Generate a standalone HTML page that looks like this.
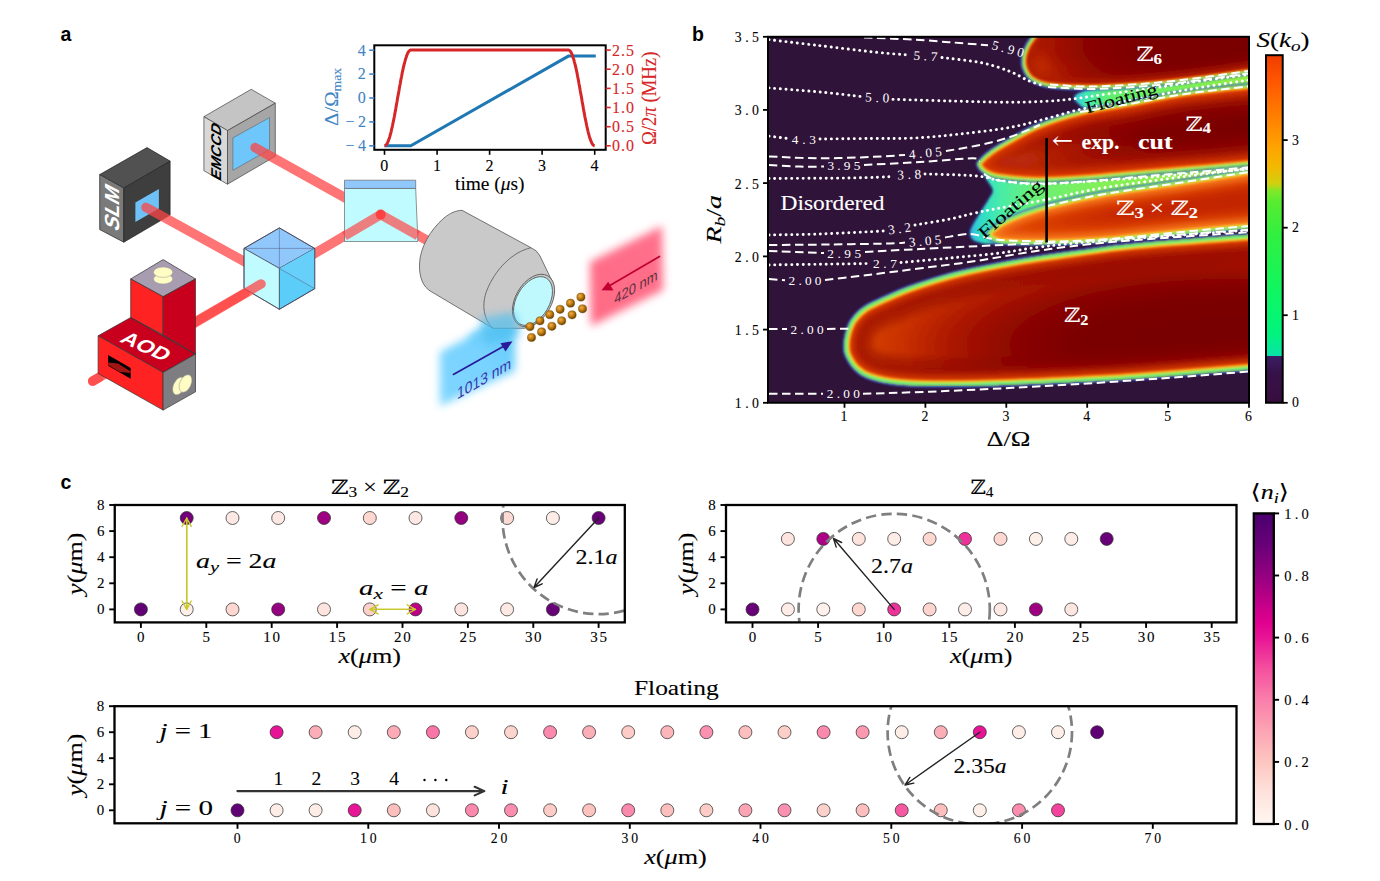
<!DOCTYPE html><html><head><meta charset="utf-8"><style>html,body{margin:0;padding:0;background:#fff;}svg{display:block;}</style></head><body>
<svg width="1380" height="881" viewBox="0 0 1380 881">
<rect width="1380" height="881" fill="#fff"/>
<defs>
<radialGradient id="gAtom" cx="0.38" cy="0.35" r="0.65"><stop offset="0" stop-color="#f0b040"/><stop offset="0.55" stop-color="#c07810"/><stop offset="1" stop-color="#6a4200"/></radialGradient>
<filter id="fb6" x="-30%" y="-30%" width="160%" height="160%"><feGaussianBlur stdDeviation="4"/></filter>
<filter id="fb3" x="-30%" y="-30%" width="160%" height="160%"><feGaussianBlur stdDeviation="2.5"/></filter>
<linearGradient id="gBlue" x1="0" y1="1" x2="1" y2="0"><stop offset="0" stop-color="#78d4ff"/><stop offset="0.6" stop-color="#70d0ff"/><stop offset="1" stop-color="#50c4f4"/></linearGradient>
<linearGradient id="gRed" x1="0" y1="1" x2="1" y2="0"><stop offset="0" stop-color="#ff5070"/><stop offset="1" stop-color="#ff5878"/></linearGradient>
</defs>
<polygon points="440.0,352.0 515.0,313.0 515.0,371.0 440.0,406.0" fill="url(#gBlue)" stroke="none" stroke-width="0" stroke-linejoin="round" filter="url(#fb6)" opacity="0.95"/>
<polygon points="470.0,335.0 505.0,316.0 495.0,328.0 470.0,345.0" fill="#60c8f8" stroke="none" stroke-width="0" stroke-linejoin="round" filter="url(#fb6)" opacity="0.8"/>
<polygon points="590.0,262.0 662.0,226.0 663.0,290.0 591.0,326.0" fill="url(#gRed)" stroke="none" stroke-width="0" stroke-linejoin="round" filter="url(#fb6)" opacity="0.85"/>
<line x1="92.7" y1="381.1" x2="245.0" y2="293.0" stroke="#ff4444" stroke-opacity="0.74" stroke-width="9.5" stroke-linecap="round" fill="none"/>
<line x1="380.7" y1="214.6" x2="440.0" y2="247.5" stroke="#ff4444" stroke-opacity="0.74" stroke-width="9.5" stroke-linecap="round" fill="none"/>
<polygon points="99.7,174.6 147.0,147.6 170.1,161.1 123.8,188.1" fill="#515151" stroke="#222" stroke-width="0.7" stroke-linejoin="round" />
<polygon points="99.7,174.6 123.8,188.1 123.8,242.2 99.7,229.6" fill="#7a7a7a" stroke="#222" stroke-width="0.7" stroke-linejoin="round" />
<polygon points="123.8,188.1 170.1,161.1 170.1,215.1 123.8,242.2" fill="#3e3e3e" stroke="#222" stroke-width="0.7" stroke-linejoin="round" />
<polygon points="135.4,202.6 158.9,189.1 158.9,208.4 135.4,221.9" fill="#6ec2f8" stroke="none" stroke-width="0" stroke-linejoin="round" />
<text transform="matrix(0,-1,0.886,0.464,111.9,207)" font-family="'Liberation Sans','DejaVu Sans',sans-serif" font-weight="bold" font-size="23" fill="#fff" x="-21.7" y="8" textLength="43.4" lengthAdjust="spacingAndGlyphs">SLM</text>
<polygon points="203.9,116.7 251.2,89.3 275.3,103.2 227.5,130.6" fill="#c4c4c4" stroke="#444" stroke-width="0.7" stroke-linejoin="round" />
<polygon points="203.9,116.7 227.5,130.6 227.5,184.2 203.9,170.7" fill="#d8d8d8" stroke="#444" stroke-width="0.7" stroke-linejoin="round" />
<polygon points="227.5,130.6 275.3,103.2 275.3,156.3 227.5,184.2" fill="#a6a6a6" stroke="#444" stroke-width="0.7" stroke-linejoin="round" />
<polygon points="232.9,137.9 269.5,117.6 269.5,149.5 232.9,170.3" fill="#6ec6fa" stroke="#555" stroke-width="0.5" stroke-linejoin="round" />
<text transform="matrix(0,-1,0.886,0.464,215.3,151)" font-family="'Liberation Sans','DejaVu Sans',sans-serif" font-weight="bold" font-size="16" fill="#000" x="-28" y="6" textLength="56" lengthAdjust="spacingAndGlyphs">EMCCD</text>
<line x1="255.1" y1="147.6" x2="350.0" y2="200.5" stroke="#ff4444" stroke-opacity="0.74" stroke-width="9.5" stroke-linecap="round" fill="none"/>
<line x1="146.0" y1="207.4" x2="248.0" y2="263.5" stroke="#ff4444" stroke-opacity="0.74" stroke-width="9.5" stroke-linecap="round" fill="none"/>
<line x1="290.0" y1="268.0" x2="380.7" y2="214.6" stroke="#ff4444" stroke-opacity="0.74" stroke-width="9.5" stroke-linecap="round" fill="none"/>
<polygon points="279.4,227.9 244.0,248.4 279.4,268.4 314.7,248.4" fill="#90c8fc" stroke="#445" stroke-width="0.7" stroke-linejoin="round" />
<polygon points="244.0,248.4 279.4,268.4 279.4,309.3 244.0,288.4" fill="#c0fcff" stroke="#445" stroke-width="0.7" stroke-linejoin="round" />
<polygon points="279.4,268.4 314.7,248.4 314.7,288.7 279.4,309.3" fill="#5cccf8" stroke="#445" stroke-width="0.7" stroke-linejoin="round" />
<polygon points="279.4,268.4 314.7,248.4 314.7,288.7" fill="#66d0fa" stroke="none" stroke-width="0" stroke-linejoin="round" />
<path d="M244,248.4 L314.7,248.4 M279.4,227.9 L279.4,268.4 M279.4,268.4 L314.7,288.7" stroke="#557" stroke-width="0.6" fill="none" opacity="0.8"/>
<polygon points="279.4,227.9 244.0,248.4 244.0,288.4 279.4,309.3 314.7,288.7 314.7,248.4" fill="none" stroke="#445" stroke-width="0.8" stroke-linejoin="round" />
<polygon points="344.5,188.4 415.7,188.4 417.9,241.5 344.5,241.5" fill="#c0fcff" stroke="#666" stroke-width="0.7" stroke-linejoin="round" />
<polygon points="344.5,180.2 415.7,180.2 415.7,188.4 344.5,188.4" fill="#90c8fc" stroke="#666" stroke-width="0.7" stroke-linejoin="round" />
<path d="M344.5,236 L380.7,214.6 L418,235.5" stroke="#ff4444" stroke-opacity="0.68" stroke-width="9.5" fill="none" stroke-linejoin="round"/>
<circle cx="380.7" cy="214.6" r="5" fill="#ff3c3c" opacity="0.9"/>
<path d="M462,210.3 L531,247.7 Q537,250 540,256 L552,281 L553,289 C552,302 545,317 533,326 L524,328.3 L493,328.3 L431,291.5 C423,287 419,277 419.5,264 C420,248 430,230 444,218 C450,213 456,210.5 462,210.3 Z" fill="#c9c9c9" stroke="#555" stroke-width="0.8"/>
<path d="M531,247.7 C512,252 495,270 487,290 C481,305 484,320 493,328.3" fill="none" stroke="#555" stroke-width="0.8"/>
<ellipse cx="533.5" cy="300.5" rx="28.5" ry="18" transform="rotate(-60 533.5 300.5)" fill="#c9c9c9" stroke="#555" stroke-width="0.8"/>
<ellipse cx="533" cy="301" rx="26.5" ry="16.5" transform="rotate(-60 533 301)" fill="#bff9fd" stroke="#555" stroke-width="0.8"/>
<polygon points="480.0,318.0 515.0,312.0 520.0,335.0 485.0,345.0" fill="#50c0f0" stroke="none" stroke-width="0" stroke-linejoin="round" filter="url(#fb6)" opacity="0.7"/>
<circle cx="530" cy="326.6" r="4.1" fill="url(#gAtom)" stroke="#5a3a00" stroke-width="0.4"/>
<circle cx="540" cy="320.8" r="4.1" fill="url(#gAtom)" stroke="#5a3a00" stroke-width="0.4"/>
<circle cx="549.8" cy="314.7" r="4.1" fill="url(#gAtom)" stroke="#5a3a00" stroke-width="0.4"/>
<circle cx="560.1" cy="309.3" r="4.1" fill="url(#gAtom)" stroke="#5a3a00" stroke-width="0.4"/>
<circle cx="570.5" cy="303.2" r="4.1" fill="url(#gAtom)" stroke="#5a3a00" stroke-width="0.4"/>
<circle cx="580.9" cy="297.1" r="4.1" fill="url(#gAtom)" stroke="#5a3a00" stroke-width="0.4"/>
<circle cx="531.5" cy="337.5" r="4.1" fill="url(#gAtom)" stroke="#5a3a00" stroke-width="0.4"/>
<circle cx="541.6" cy="331.9" r="4.1" fill="url(#gAtom)" stroke="#5a3a00" stroke-width="0.4"/>
<circle cx="551.9" cy="326.3" r="4.1" fill="url(#gAtom)" stroke="#5a3a00" stroke-width="0.4"/>
<circle cx="561.7" cy="320.8" r="4.1" fill="url(#gAtom)" stroke="#5a3a00" stroke-width="0.4"/>
<circle cx="572.1" cy="314.8" r="4.1" fill="url(#gAtom)" stroke="#5a3a00" stroke-width="0.4"/>
<circle cx="582.5" cy="308.8" r="4.1" fill="url(#gAtom)" stroke="#5a3a00" stroke-width="0.4"/>
<path d="M453.4,374.4 L505,345.4" fill="none" stroke="#2a1a9a" stroke-width="1.7" stroke-linecap="round"/>
<path d="M512.5,341.2 L500.5,343.2 L505.5,351.5 Z" fill="#2a1a9a"/>
<path d="M659.5,256.5 L609,286" fill="none" stroke="#c00030" stroke-width="1.7" stroke-linecap="round"/>
<path d="M601.5,290.3 L613.5,290.5 L608.2,281.8 Z" fill="#c00030"/>
<text transform="matrix(0.866,-0.5,0,1,484,378)" font-family="'Liberation Sans','DejaVu Sans',sans-serif" font-size="16" fill="#3838b0" text-anchor="middle" dy="6">1013 nm</text>
<text transform="matrix(0.866,-0.5,0,1,636,287)" font-family="'Liberation Sans','DejaVu Sans',sans-serif" font-size="15" fill="#5a3040" text-anchor="middle" dy="5">420 nm</text>
<line x1="92.7" y1="381.1" x2="99.0" y2="377.5" stroke="#ff4444" stroke-opacity="0.74" stroke-width="9.5" stroke-linecap="round" fill="none"/>
<line x1="180.0" y1="331.6" x2="261.0" y2="284.0" stroke="#ff4444" stroke-opacity="0.74" stroke-width="9.5" stroke-linecap="round" fill="none"/>
<polygon points="98.1,335.8 130.7,317.5 195.5,354.1 163.1,372.5" fill="#c8001e" stroke="#333" stroke-width="0.7" stroke-linejoin="round" />
<polygon points="98.1,335.8 163.1,372.5 163.1,410.1 98.1,373.4" fill="#ff2222" stroke="#333" stroke-width="0.7" stroke-linejoin="round" />
<polygon points="163.1,372.5 195.5,354.1 195.5,391.8 163.1,410.1" fill="#7e7e82" stroke="#333" stroke-width="0.7" stroke-linejoin="round" />
<polygon points="130.7,278.9 163.1,259.6 195.5,278.9 163.1,296.7" fill="#a89cb0" stroke="#333" stroke-width="0.7" stroke-linejoin="round" />
<polygon points="130.7,278.9 163.1,296.7 163.1,334.9 130.7,317.5" fill="#ff2222" stroke="#333" stroke-width="0.7" stroke-linejoin="round" />
<polygon points="163.1,296.7 195.5,278.9 195.5,354.1 163.1,334.9" fill="#c8001e" stroke="#333" stroke-width="0.7" stroke-linejoin="round" />
<line x1="130.7" y1="317.5" x2="195.5" y2="354.1" stroke="#333" stroke-width="0.7"/>
<polygon points="108.1,355.1 130.7,368.0 130.7,378.8 108.1,365.7" fill="#000" stroke="none" stroke-width="0" stroke-linejoin="round" />
<polygon points="108.1,362.5 118.0,363.5 130.7,371.5 130.7,373.0 120.0,372.0 108.1,365.0" fill="#a01414" stroke="none" stroke-width="0" stroke-linejoin="round" />
<ellipse cx="163.1" cy="279" rx="9.6" ry="5" fill="#fffcc4" stroke="#999" stroke-width="0.5"/>
<ellipse cx="163.1" cy="272.2" rx="9.6" ry="5.2" fill="#fffcc4" stroke="#999" stroke-width="0.5"/>
<ellipse cx="179" cy="386" rx="5.6" ry="9.3" transform="rotate(25 179 386)" fill="#fffcc4" stroke="#999" stroke-width="0.5"/>
<ellipse cx="185.5" cy="383.5" rx="5.6" ry="9.3" transform="rotate(25 185.5 383.5)" fill="#fffcc4" stroke="#999" stroke-width="0.5"/>
<text transform="translate(146.5,346) rotate(24) skewX(-18)" font-family="'Liberation Sans','DejaVu Sans',sans-serif" font-weight="bold" font-size="19" fill="#fff" x="-25" y="7" textLength="50" lengthAdjust="spacingAndGlyphs">AOD</text>
<path d="M384.5,145.8 L410.8,145.8 L568.4,56.1 L595.8,56.1" fill="none" stroke="#1f77b4" stroke-width="3"/>
<path d="M384.5,145.8 L385.2,145.7 L385.8,145.2 L386.5,144.5 L387.1,143.5 L387.8,142.2 L388.4,140.6 L389.1,138.7 L389.8,136.7 L390.4,134.3 L391.1,131.8 L391.7,129.0 L392.4,126.1 L393.0,123.0 L393.7,119.7 L394.4,116.3 L395.0,112.7 L395.7,109.1 L396.3,105.4 L397.0,101.7 L397.6,98.0 L398.3,94.2 L399.0,90.5 L399.6,86.8 L400.3,83.2 L400.9,79.6 L401.6,76.2 L402.2,72.9 L402.9,69.8 L403.5,66.9 L404.2,64.1 L404.9,61.6 L405.5,59.2 L406.2,57.2 L406.8,55.3 L407.5,53.7 L408.1,52.4 L408.8,51.4 L409.5,50.7 L410.1,50.2 L410.8,50.1 L568.4,50.1 L568.4,50.1 L569.1,50.2 L569.7,50.7 L570.4,51.4 L571.1,52.4 L571.7,53.7 L572.4,55.3 L573.0,57.2 L573.7,59.2 L574.3,61.6 L575.0,64.1 L575.7,66.9 L576.3,69.8 L577.0,72.9 L577.6,76.2 L578.3,79.6 L578.9,83.2 L579.6,86.8 L580.2,90.5 L580.9,94.2 L581.6,98.0 L582.2,101.7 L582.9,105.4 L583.5,109.1 L584.2,112.7 L584.8,116.3 L585.5,119.7 L586.2,123.0 L586.8,126.1 L587.5,129.0 L588.1,131.8 L588.8,134.3 L589.4,136.7 L590.1,138.7 L590.8,140.6 L591.4,142.2 L592.1,143.5 L592.7,144.5 L593.4,145.2 L594.0,145.7 L594.7,145.8" fill="none" stroke="#d62728" stroke-width="3" stroke-linejoin="round"/>
<rect x="374.3" y="45.3" width="231.40000000000003" height="104.50000000000001" fill="none" stroke="#000" stroke-width="2"/>
<g font-family="'Liberation Serif','DejaVu Serif',serif">
<line x1="384.5" y1="149.8" x2="384.5" y2="154.8" stroke="#000" stroke-width="1.6"/>
<text x="380.3" y="170.7" font-size="16" fill="#000" stroke="#000" stroke-width="0.1" textLength="8.4" lengthAdjust="spacing" >0</text>
<line x1="437.1" y1="149.8" x2="437.1" y2="154.8" stroke="#000" stroke-width="1.6"/>
<text x="432.9" y="170.7" font-size="16" fill="#000" stroke="#000" stroke-width="0.1" textLength="8.4" lengthAdjust="spacing" >1</text>
<line x1="489.6" y1="149.8" x2="489.6" y2="154.8" stroke="#000" stroke-width="1.6"/>
<text x="485.4" y="170.7" font-size="16" fill="#000" stroke="#000" stroke-width="0.1" textLength="8.4" lengthAdjust="spacing" >2</text>
<line x1="542.1" y1="149.8" x2="542.1" y2="154.8" stroke="#000" stroke-width="1.6"/>
<text x="537.9" y="170.7" font-size="16" fill="#000" stroke="#000" stroke-width="0.1" textLength="8.4" lengthAdjust="spacing" >3</text>
<line x1="594.7" y1="149.8" x2="594.7" y2="154.8" stroke="#000" stroke-width="1.6"/>
<text x="590.5" y="170.7" font-size="16" fill="#000" stroke="#000" stroke-width="0.1" textLength="8.4" lengthAdjust="spacing" >4</text>
<line x1="369.3" y1="145.8" x2="374.3" y2="145.8" stroke="#3f84c4" stroke-width="1.6"/>
<text x="345.5" y="151.1" font-size="16" fill="#3f84c4" stroke="#3f84c4" stroke-width="0.1" textLength="20.5" lengthAdjust="spacing" >−4</text>
<line x1="369.3" y1="121.9" x2="374.3" y2="121.9" stroke="#3f84c4" stroke-width="1.6"/>
<text x="345.5" y="127.2" font-size="16" fill="#3f84c4" stroke="#3f84c4" stroke-width="0.1" textLength="20.5" lengthAdjust="spacing" >−2</text>
<line x1="369.3" y1="98.0" x2="374.3" y2="98.0" stroke="#3f84c4" stroke-width="1.6"/>
<text x="357.8" y="103.3" font-size="16" fill="#3f84c4" stroke="#3f84c4" stroke-width="0.1" textLength="8.2" lengthAdjust="spacing" >0</text>
<line x1="369.3" y1="74.1" x2="374.3" y2="74.1" stroke="#3f84c4" stroke-width="1.6"/>
<text x="357.8" y="79.4" font-size="16" fill="#3f84c4" stroke="#3f84c4" stroke-width="0.1" textLength="8.2" lengthAdjust="spacing" >2</text>
<line x1="369.3" y1="50.2" x2="374.3" y2="50.2" stroke="#3f84c4" stroke-width="1.6"/>
<text x="357.8" y="55.5" font-size="16" fill="#3f84c4" stroke="#3f84c4" stroke-width="0.1" textLength="8.2" lengthAdjust="spacing" >4</text>
<line x1="605.7" y1="145.8" x2="610.7" y2="145.8" stroke="#d62728" stroke-width="1.6"/>
<text x="612.0" y="151.2" font-size="16" fill="#d62728" stroke="#d62728" stroke-width="0.1" textLength="22.0" lengthAdjust="spacing" >0.0</text>
<line x1="605.7" y1="126.7" x2="610.7" y2="126.7" stroke="#d62728" stroke-width="1.6"/>
<text x="612.0" y="132.1" font-size="16" fill="#d62728" stroke="#d62728" stroke-width="0.1" textLength="22.0" lengthAdjust="spacing" >0.5</text>
<line x1="605.7" y1="107.5" x2="610.7" y2="107.5" stroke="#d62728" stroke-width="1.6"/>
<text x="612.0" y="112.9" font-size="16" fill="#d62728" stroke="#d62728" stroke-width="0.1" textLength="22.0" lengthAdjust="spacing" >1.0</text>
<line x1="605.7" y1="88.4" x2="610.7" y2="88.4" stroke="#d62728" stroke-width="1.6"/>
<text x="612.0" y="93.8" font-size="16" fill="#d62728" stroke="#d62728" stroke-width="0.1" textLength="22.0" lengthAdjust="spacing" >1.5</text>
<line x1="605.7" y1="69.2" x2="610.7" y2="69.2" stroke="#d62728" stroke-width="1.6"/>
<text x="612.0" y="74.6" font-size="16" fill="#d62728" stroke="#d62728" stroke-width="0.1" textLength="22.0" lengthAdjust="spacing" >2.0</text>
<line x1="605.7" y1="50.1" x2="610.7" y2="50.1" stroke="#d62728" stroke-width="1.6"/>
<text x="612.0" y="55.5" font-size="16" fill="#d62728" stroke="#d62728" stroke-width="0.1" textLength="22.0" lengthAdjust="spacing" >2.5</text>
<text x="455.0" y="189.9" font-size="18" fill="#000" stroke="#000" stroke-width="0.1" textLength="69.5" lengthAdjust="spacingAndGlyphs" >time (<tspan font-style="italic">μ</tspan>s)</text>
<text transform="translate(337.7,96.9) rotate(-90)" x="-29.0" y="0.0" font-size="19" fill="#3f84c4" stroke="#3f84c4" stroke-width="0.1" textLength="58.0" lengthAdjust="spacingAndGlyphs" >Δ/Ω<tspan font-size="12.5" dy="3">max</tspan></text>
<text transform="translate(655.8,98.3) rotate(-90)" x="-46.8" y="0.0" font-size="20" fill="#d62728" stroke="#d62728" stroke-width="0.1" textLength="93.5" lengthAdjust="spacingAndGlyphs" >Ω/2<tspan font-style="italic">π</tspan> (MHz)</text>
</g>
<defs>
<clipPath id="clipB"><rect x="768.0" y="36.8" width="481.0" height="365.95"/></clipPath>
<radialGradient id="gZ2" gradientUnits="userSpaceOnUse" cx="1230" cy="345" r="390" gradientTransform="translate(1230,345) scale(1,0.3) translate(-1230,-345)"><stop offset="0" stop-color="#780000"/><stop offset="0.38" stop-color="#7a0000"/><stop offset="0.55" stop-color="#8a0500"/><stop offset="0.7" stop-color="#a81400"/><stop offset="0.84" stop-color="#c83000"/><stop offset="1" stop-color="#e04c10"/></radialGradient>
<radialGradient id="gZ4" gradientUnits="userSpaceOnUse" cx="1280" cy="125" r="305" gradientTransform="translate(1280,125) scale(1,0.25) translate(-1280,-125)"><stop offset="0" stop-color="#780000"/><stop offset="0.45" stop-color="#7c0000"/><stop offset="0.66" stop-color="#980a00"/><stop offset="0.8" stop-color="#bc2200"/><stop offset="0.92" stop-color="#dc4410"/><stop offset="1" stop-color="#f06820"/></radialGradient>
<radialGradient id="gZ6" gradientUnits="userSpaceOnUse" cx="1290" cy="45" r="275" gradientTransform="translate(1290,45) scale(1,0.3) translate(-1290,-45)"><stop offset="0" stop-color="#780000"/><stop offset="0.55" stop-color="#7c0000"/><stop offset="0.75" stop-color="#8c0600"/><stop offset="0.88" stop-color="#a81400"/><stop offset="0.96" stop-color="#d03800"/><stop offset="1" stop-color="#e85818"/></radialGradient>
<radialGradient id="gZ32" gradientUnits="userSpaceOnUse" cx="1300" cy="203" r="330" gradientTransform="translate(1300,203) scale(1,0.2) translate(-1300,-203)"><stop offset="0" stop-color="#b82000"/><stop offset="0.55" stop-color="#c42a00"/><stop offset="0.78" stop-color="#d84000"/><stop offset="0.9" stop-color="#f06818"/><stop offset="1" stop-color="#ffa838"/></radialGradient>
<filter id="fblur" x="-5%" y="-5%" width="110%" height="110%"><feGaussianBlur stdDeviation="1.15"/></filter>
<filter id="fblur4" x="-5%" y="-5%" width="110%" height="110%"><feGaussianBlur stdDeviation="3.5"/></filter>
<filter id="fblur2" x="-10%" y="-10%" width="120%" height="120%"><feGaussianBlur stdDeviation="2.2"/></filter>
</defs>
<g clip-path="url(#clipB)">
<rect x="768.0" y="36.8" width="481.0" height="365.95" fill="#2f1339"/>
<linearGradient id="gBand1" gradientUnits="userSpaceOnUse" x1="1074" y1="0" x2="1250" y2="0"><stop offset="0" stop-color="#38c8e0"/><stop offset="0.07" stop-color="#40e8b0"/><stop offset="0.2" stop-color="#60f070"/><stop offset="1" stop-color="#90f040"/></linearGradient>
<linearGradient id="gBand2" gradientUnits="userSpaceOnUse" x1="970" y1="0" x2="1250" y2="0"><stop offset="0" stop-color="#30b8e0"/><stop offset="0.04" stop-color="#30dcc8"/><stop offset="0.11" stop-color="#48eca8"/><stop offset="0.22" stop-color="#68f078"/><stop offset="0.45" stop-color="#80f058"/><stop offset="1" stop-color="#a8f040"/></linearGradient>
<path d="M1290.0,64.0 C1283.7,65.0 1267.0,68.3 1252.0,70.0 C1237.0,71.7 1217.0,72.0 1200.0,74.0 C1183.0,76.0 1165.0,79.8 1150.0,82.0 C1135.0,84.2 1120.3,85.7 1110.0,87.0 C1099.7,88.3 1093.8,88.5 1088.0,90.0 C1082.2,91.5 1076.7,93.8 1075.0,96.0 C1073.3,98.2 1075.5,101.0 1078.0,103.0 C1080.5,105.0 1081.3,108.3 1090.0,108.0 C1098.7,107.7 1113.3,103.7 1130.0,101.0 C1146.7,98.3 1169.7,94.5 1190.0,92.0 C1210.3,89.5 1235.3,87.5 1252.0,86.0 C1268.7,84.5 1283.7,83.5 1290.0,83.0 Z" fill="#3848d0" opacity="0.8" filter="url(#fblur2)"/>
<path d="M1290.0,64.0 C1283.7,65.0 1267.0,68.3 1252.0,70.0 C1237.0,71.7 1217.0,72.0 1200.0,74.0 C1183.0,76.0 1165.0,79.8 1150.0,82.0 C1135.0,84.2 1120.3,85.7 1110.0,87.0 C1099.7,88.3 1093.8,88.5 1088.0,90.0 C1082.2,91.5 1076.7,93.8 1075.0,96.0 C1073.3,98.2 1075.5,101.0 1078.0,103.0 C1080.5,105.0 1081.3,108.3 1090.0,108.0 C1098.7,107.7 1113.3,103.7 1130.0,101.0 C1146.7,98.3 1169.7,94.5 1190.0,92.0 C1210.3,89.5 1235.3,87.5 1252.0,86.0 C1268.7,84.5 1283.7,83.5 1290.0,83.0 Z" fill="url(#gBand1)" filter="url(#fblur)"/>
<path d="M1290.0,156.0 C1283.7,156.7 1268.7,158.2 1252.0,160.0 C1235.3,161.8 1212.0,164.8 1190.0,167.0 C1168.0,169.2 1145.0,171.2 1120.0,173.0 C1095.0,174.8 1060.0,177.3 1040.0,178.0 C1020.0,178.7 1009.3,178.3 1000.0,177.0 C990.7,175.7 986.3,169.8 984.0,170.0 C981.7,170.2 984.5,174.7 986.0,178.0 C987.5,181.3 992.5,186.5 993.0,190.0 C993.5,193.5 991.0,195.3 989.0,199.0 C987.0,202.7 983.8,207.3 981.0,212.0 C978.2,216.7 973.8,223.2 972.0,227.0 C970.2,230.8 969.7,232.6 970.5,235.0 C971.3,237.4 972.1,240.2 977.0,241.5 C981.9,242.8 979.5,244.2 1000.0,243.0 C1020.5,241.8 1058.0,237.5 1100.0,234.0 C1142.0,230.5 1220.3,224.5 1252.0,222.0 C1283.7,219.5 1283.7,219.5 1290.0,219.0 Z" fill="#3848d0" opacity="0.8" filter="url(#fblur2)"/>
<path d="M1290.0,156.0 C1283.7,156.7 1268.7,158.2 1252.0,160.0 C1235.3,161.8 1212.0,164.8 1190.0,167.0 C1168.0,169.2 1145.0,171.2 1120.0,173.0 C1095.0,174.8 1060.0,177.3 1040.0,178.0 C1020.0,178.7 1009.3,178.3 1000.0,177.0 C990.7,175.7 986.3,169.8 984.0,170.0 C981.7,170.2 984.5,174.7 986.0,178.0 C987.5,181.3 992.5,186.5 993.0,190.0 C993.5,193.5 991.0,195.3 989.0,199.0 C987.0,202.7 983.8,207.3 981.0,212.0 C978.2,216.7 973.8,223.2 972.0,227.0 C970.2,230.8 969.7,232.6 970.5,235.0 C971.3,237.4 972.1,240.2 977.0,241.5 C981.9,242.8 979.5,244.2 1000.0,243.0 C1020.5,241.8 1058.0,237.5 1100.0,234.0 C1142.0,230.5 1220.3,224.5 1252.0,222.0 C1283.7,219.5 1283.7,219.5 1290.0,219.0 Z" fill="url(#gBand2)" filter="url(#fblur)"/>
<clipPath id="clZ6"><path d="M1055.0,-40.0 C1052.8,-31.7 1045.2,-1.7 1042.0,10.0 C1038.8,21.7 1038.5,24.3 1036.0,30.0 C1033.5,35.7 1029.2,39.7 1027.0,44.0 C1024.8,48.3 1023.2,52.0 1022.5,56.0 C1021.8,60.0 1021.6,64.0 1023.0,68.0 C1024.4,72.0 1026.5,76.8 1031.0,80.0 C1035.5,83.2 1040.2,85.5 1050.0,87.0 C1059.8,88.5 1075.0,89.1 1090.0,89.0 C1105.0,88.9 1123.3,87.8 1140.0,86.5 C1156.7,85.2 1171.3,83.8 1190.0,81.5 C1208.7,79.2 1235.3,75.2 1252.0,73.0 C1268.7,70.8 1283.7,86.8 1290.0,68.0 C1296.3,49.2 1290.0,-22.0 1290.0,-40.0 Z"/></clipPath>
<path d="M1055.0,-40.0 C1052.8,-31.7 1045.2,-1.7 1042.0,10.0 C1038.8,21.7 1038.5,24.3 1036.0,30.0 C1033.5,35.7 1029.2,39.7 1027.0,44.0 C1024.8,48.3 1023.2,52.0 1022.5,56.0 C1021.8,60.0 1021.6,64.0 1023.0,68.0 C1024.4,72.0 1026.5,76.8 1031.0,80.0 C1035.5,83.2 1040.2,85.5 1050.0,87.0 C1059.8,88.5 1075.0,89.1 1090.0,89.0 C1105.0,88.9 1123.3,87.8 1140.0,86.5 C1156.7,85.2 1171.3,83.8 1190.0,81.5 C1208.7,79.2 1235.3,75.2 1252.0,73.0 C1268.7,70.8 1283.7,86.8 1290.0,68.0 C1296.3,49.2 1290.0,-22.0 1290.0,-40.0 Z" fill="none" stroke="#4446d0" stroke-width="3.5" opacity="0.75" filter="url(#fblur)"/>
<g clip-path="url(#clZ6)"><g filter="url(#fblur4)" fill="none" stroke-linejoin="round"><path d="M1055.0,-40.0 C1052.8,-31.7 1045.2,-1.7 1042.0,10.0 C1038.8,21.7 1038.5,24.3 1036.0,30.0 C1033.5,35.7 1029.2,39.7 1027.0,44.0 C1024.8,48.3 1023.2,52.0 1022.5,56.0 C1021.8,60.0 1021.6,64.0 1023.0,68.0 C1024.4,72.0 1026.5,76.8 1031.0,80.0 C1035.5,83.2 1040.2,85.5 1050.0,87.0 C1059.8,88.5 1075.0,89.1 1090.0,89.0 C1105.0,88.9 1123.3,87.8 1140.0,86.5 C1156.7,85.2 1171.3,83.8 1190.0,81.5 C1208.7,79.2 1235.3,75.2 1252.0,73.0 C1268.7,70.8 1283.7,86.8 1290.0,68.0 C1296.3,49.2 1290.0,-22.0 1290.0,-40.0 Z" fill="url(#gZ6)"/><path d="M1055.0,-40.0 C1052.8,-31.7 1045.2,-1.7 1042.0,10.0 C1038.8,21.7 1038.5,24.3 1036.0,30.0 C1033.5,35.7 1029.2,39.7 1027.0,44.0 C1024.8,48.3 1023.2,52.0 1022.5,56.0 C1021.8,60.0 1021.6,64.0 1023.0,68.0 C1024.4,72.0 1026.5,76.8 1031.0,80.0 C1035.5,83.2 1040.2,85.5 1050.0,87.0 C1059.8,88.5 1075.0,89.1 1090.0,89.0 C1105.0,88.9 1123.3,87.8 1140.0,86.5 C1156.7,85.2 1171.3,83.8 1190.0,81.5 C1208.7,79.2 1235.3,75.2 1252.0,73.0 C1268.7,70.8 1283.7,86.8 1290.0,68.0 C1296.3,49.2 1290.0,-22.0 1290.0,-40.0 Z" stroke="#c83000" stroke-width="18"/>
<path d="M1055.0,-40.0 C1052.8,-31.7 1045.2,-1.7 1042.0,10.0 C1038.8,21.7 1038.5,24.3 1036.0,30.0 C1033.5,35.7 1029.2,39.7 1027.0,44.0 C1024.8,48.3 1023.2,52.0 1022.5,56.0 C1021.8,60.0 1021.6,64.0 1023.0,68.0 C1024.4,72.0 1026.5,76.8 1031.0,80.0 C1035.5,83.2 1040.2,85.5 1050.0,87.0 C1059.8,88.5 1075.0,89.1 1090.0,89.0 C1105.0,88.9 1123.3,87.8 1140.0,86.5 C1156.7,85.2 1171.3,83.8 1190.0,81.5 C1208.7,79.2 1235.3,75.2 1252.0,73.0 C1268.7,70.8 1283.7,86.8 1290.0,68.0 C1296.3,49.2 1290.0,-22.0 1290.0,-40.0 Z" stroke="#900800" stroke-width="32" opacity="0.4"/>
<path d="M1055.0,-40.0 C1052.8,-31.7 1045.2,-1.7 1042.0,10.0 C1038.8,21.7 1038.5,24.3 1036.0,30.0 C1033.5,35.7 1029.2,39.7 1027.0,44.0 C1024.8,48.3 1023.2,52.0 1022.5,56.0 C1021.8,60.0 1021.6,64.0 1023.0,68.0 C1024.4,72.0 1026.5,76.8 1031.0,80.0 C1035.5,83.2 1040.2,85.5 1050.0,87.0 C1059.8,88.5 1075.0,89.1 1090.0,89.0 C1105.0,88.9 1123.3,87.8 1140.0,86.5 C1156.7,85.2 1171.3,83.8 1190.0,81.5 C1208.7,79.2 1235.3,75.2 1252.0,73.0 C1268.7,70.8 1283.7,86.8 1290.0,68.0 C1296.3,49.2 1290.0,-22.0 1290.0,-40.0 Z" stroke="#b01800" stroke-width="18" opacity="0.5"/>
</g></g>
<g filter="url(#fblur)"><g clip-path="url(#clZ6)" fill="none" stroke-linejoin="round">
<path d="M1055.0,-40.0 C1052.8,-31.7 1045.2,-1.7 1042.0,10.0 C1038.8,21.7 1038.5,24.3 1036.0,30.0 C1033.5,35.7 1029.2,39.7 1027.0,44.0 C1024.8,48.3 1023.2,52.0 1022.5,56.0 C1021.8,60.0 1021.6,64.0 1023.0,68.0 C1024.4,72.0 1026.5,76.8 1031.0,80.0 C1035.5,83.2 1040.2,85.5 1050.0,87.0 C1059.8,88.5 1075.0,89.1 1090.0,89.0 C1105.0,88.9 1123.3,87.8 1140.0,86.5 C1156.7,85.2 1171.3,83.8 1190.0,81.5 C1208.7,79.2 1235.3,75.2 1252.0,73.0 C1268.7,70.8 1283.7,86.8 1290.0,68.0 C1296.3,49.2 1290.0,-22.0 1290.0,-40.0 Z" stroke="#e04000" stroke-width="11.0" opacity="0.7"/>
<path d="M1055.0,-40.0 C1052.8,-31.7 1045.2,-1.7 1042.0,10.0 C1038.8,21.7 1038.5,24.3 1036.0,30.0 C1033.5,35.7 1029.2,39.7 1027.0,44.0 C1024.8,48.3 1023.2,52.0 1022.5,56.0 C1021.8,60.0 1021.6,64.0 1023.0,68.0 C1024.4,72.0 1026.5,76.8 1031.0,80.0 C1035.5,83.2 1040.2,85.5 1050.0,87.0 C1059.8,88.5 1075.0,89.1 1090.0,89.0 C1105.0,88.9 1123.3,87.8 1140.0,86.5 C1156.7,85.2 1171.3,83.8 1190.0,81.5 C1208.7,79.2 1235.3,75.2 1252.0,73.0 C1268.7,70.8 1283.7,86.8 1290.0,68.0 C1296.3,49.2 1290.0,-22.0 1290.0,-40.0 Z" stroke="#ffa020" stroke-width="7.6" opacity="1"/>
<path d="M1055.0,-40.0 C1052.8,-31.7 1045.2,-1.7 1042.0,10.0 C1038.8,21.7 1038.5,24.3 1036.0,30.0 C1033.5,35.7 1029.2,39.7 1027.0,44.0 C1024.8,48.3 1023.2,52.0 1022.5,56.0 C1021.8,60.0 1021.6,64.0 1023.0,68.0 C1024.4,72.0 1026.5,76.8 1031.0,80.0 C1035.5,83.2 1040.2,85.5 1050.0,87.0 C1059.8,88.5 1075.0,89.1 1090.0,89.0 C1105.0,88.9 1123.3,87.8 1140.0,86.5 C1156.7,85.2 1171.3,83.8 1190.0,81.5 C1208.7,79.2 1235.3,75.2 1252.0,73.0 C1268.7,70.8 1283.7,86.8 1290.0,68.0 C1296.3,49.2 1290.0,-22.0 1290.0,-40.0 Z" stroke="#80f050" stroke-width="5.2" opacity="1"/>
<path d="M1055.0,-40.0 C1052.8,-31.7 1045.2,-1.7 1042.0,10.0 C1038.8,21.7 1038.5,24.3 1036.0,30.0 C1033.5,35.7 1029.2,39.7 1027.0,44.0 C1024.8,48.3 1023.2,52.0 1022.5,56.0 C1021.8,60.0 1021.6,64.0 1023.0,68.0 C1024.4,72.0 1026.5,76.8 1031.0,80.0 C1035.5,83.2 1040.2,85.5 1050.0,87.0 C1059.8,88.5 1075.0,89.1 1090.0,89.0 C1105.0,88.9 1123.3,87.8 1140.0,86.5 C1156.7,85.2 1171.3,83.8 1190.0,81.5 C1208.7,79.2 1235.3,75.2 1252.0,73.0 C1268.7,70.8 1283.7,86.8 1290.0,68.0 C1296.3,49.2 1290.0,-22.0 1290.0,-40.0 Z" stroke="#30e0c8" stroke-width="2" opacity="1"/>
</g></g>
<clipPath id="clZ4"><path d="M1290.0,80.0 C1283.7,80.7 1269.5,82.1 1252.0,84.0 C1234.5,85.9 1205.8,88.4 1185.0,91.5 C1164.2,94.6 1144.2,99.2 1127.0,102.4 C1109.8,105.6 1096.7,106.9 1082.0,110.5 C1067.3,114.1 1051.3,119.1 1039.0,124.0 C1026.7,128.9 1016.2,135.5 1008.0,140.0 C999.8,144.5 994.8,147.5 990.0,151.0 C985.2,154.5 981.0,158.5 979.0,161.0 C977.0,163.5 977.2,164.0 978.0,166.0 C978.8,168.0 980.7,171.0 984.0,173.0 C987.3,175.0 989.2,176.8 998.0,178.2 C1006.8,179.6 1022.5,181.4 1037.0,181.6 C1051.5,181.8 1070.2,180.4 1085.0,179.5 C1099.8,178.6 1108.0,177.5 1125.5,176.0 C1143.0,174.5 1168.9,172.3 1190.0,170.5 C1211.1,168.7 1235.3,166.6 1252.0,165.0 C1268.7,163.4 1283.7,161.7 1290.0,161.0 Z"/></clipPath>
<path d="M1290.0,80.0 C1283.7,80.7 1269.5,82.1 1252.0,84.0 C1234.5,85.9 1205.8,88.4 1185.0,91.5 C1164.2,94.6 1144.2,99.2 1127.0,102.4 C1109.8,105.6 1096.7,106.9 1082.0,110.5 C1067.3,114.1 1051.3,119.1 1039.0,124.0 C1026.7,128.9 1016.2,135.5 1008.0,140.0 C999.8,144.5 994.8,147.5 990.0,151.0 C985.2,154.5 981.0,158.5 979.0,161.0 C977.0,163.5 977.2,164.0 978.0,166.0 C978.8,168.0 980.7,171.0 984.0,173.0 C987.3,175.0 989.2,176.8 998.0,178.2 C1006.8,179.6 1022.5,181.4 1037.0,181.6 C1051.5,181.8 1070.2,180.4 1085.0,179.5 C1099.8,178.6 1108.0,177.5 1125.5,176.0 C1143.0,174.5 1168.9,172.3 1190.0,170.5 C1211.1,168.7 1235.3,166.6 1252.0,165.0 C1268.7,163.4 1283.7,161.7 1290.0,161.0 Z" fill="none" stroke="#4446d0" stroke-width="3.5" opacity="0.75" filter="url(#fblur)"/>
<g clip-path="url(#clZ4)"><g filter="url(#fblur4)" fill="none" stroke-linejoin="round"><path d="M1290.0,80.0 C1283.7,80.7 1269.5,82.1 1252.0,84.0 C1234.5,85.9 1205.8,88.4 1185.0,91.5 C1164.2,94.6 1144.2,99.2 1127.0,102.4 C1109.8,105.6 1096.7,106.9 1082.0,110.5 C1067.3,114.1 1051.3,119.1 1039.0,124.0 C1026.7,128.9 1016.2,135.5 1008.0,140.0 C999.8,144.5 994.8,147.5 990.0,151.0 C985.2,154.5 981.0,158.5 979.0,161.0 C977.0,163.5 977.2,164.0 978.0,166.0 C978.8,168.0 980.7,171.0 984.0,173.0 C987.3,175.0 989.2,176.8 998.0,178.2 C1006.8,179.6 1022.5,181.4 1037.0,181.6 C1051.5,181.8 1070.2,180.4 1085.0,179.5 C1099.8,178.6 1108.0,177.5 1125.5,176.0 C1143.0,174.5 1168.9,172.3 1190.0,170.5 C1211.1,168.7 1235.3,166.6 1252.0,165.0 C1268.7,163.4 1283.7,161.7 1290.0,161.0 Z" fill="url(#gZ4)"/><path d="M1290.0,80.0 C1283.7,80.7 1269.5,82.1 1252.0,84.0 C1234.5,85.9 1205.8,88.4 1185.0,91.5 C1164.2,94.6 1144.2,99.2 1127.0,102.4 C1109.8,105.6 1096.7,106.9 1082.0,110.5 C1067.3,114.1 1051.3,119.1 1039.0,124.0 C1026.7,128.9 1016.2,135.5 1008.0,140.0 C999.8,144.5 994.8,147.5 990.0,151.0 C985.2,154.5 981.0,158.5 979.0,161.0 C977.0,163.5 977.2,164.0 978.0,166.0 C978.8,168.0 980.7,171.0 984.0,173.0 C987.3,175.0 989.2,176.8 998.0,178.2 C1006.8,179.6 1022.5,181.4 1037.0,181.6 C1051.5,181.8 1070.2,180.4 1085.0,179.5 C1099.8,178.6 1108.0,177.5 1125.5,176.0 C1143.0,174.5 1168.9,172.3 1190.0,170.5 C1211.1,168.7 1235.3,166.6 1252.0,165.0 C1268.7,163.4 1283.7,161.7 1290.0,161.0 Z" stroke="#d84000" stroke-width="18"/>
<path d="M1290.0,80.0 C1283.7,80.7 1269.5,82.1 1252.0,84.0 C1234.5,85.9 1205.8,88.4 1185.0,91.5 C1164.2,94.6 1144.2,99.2 1127.0,102.4 C1109.8,105.6 1096.7,106.9 1082.0,110.5 C1067.3,114.1 1051.3,119.1 1039.0,124.0 C1026.7,128.9 1016.2,135.5 1008.0,140.0 C999.8,144.5 994.8,147.5 990.0,151.0 C985.2,154.5 981.0,158.5 979.0,161.0 C977.0,163.5 977.2,164.0 978.0,166.0 C978.8,168.0 980.7,171.0 984.0,173.0 C987.3,175.0 989.2,176.8 998.0,178.2 C1006.8,179.6 1022.5,181.4 1037.0,181.6 C1051.5,181.8 1070.2,180.4 1085.0,179.5 C1099.8,178.6 1108.0,177.5 1125.5,176.0 C1143.0,174.5 1168.9,172.3 1190.0,170.5 C1211.1,168.7 1235.3,166.6 1252.0,165.0 C1268.7,163.4 1283.7,161.7 1290.0,161.0 Z" stroke="#900800" stroke-width="60" opacity="0.45"/>
<path d="M1290.0,80.0 C1283.7,80.7 1269.5,82.1 1252.0,84.0 C1234.5,85.9 1205.8,88.4 1185.0,91.5 C1164.2,94.6 1144.2,99.2 1127.0,102.4 C1109.8,105.6 1096.7,106.9 1082.0,110.5 C1067.3,114.1 1051.3,119.1 1039.0,124.0 C1026.7,128.9 1016.2,135.5 1008.0,140.0 C999.8,144.5 994.8,147.5 990.0,151.0 C985.2,154.5 981.0,158.5 979.0,161.0 C977.0,163.5 977.2,164.0 978.0,166.0 C978.8,168.0 980.7,171.0 984.0,173.0 C987.3,175.0 989.2,176.8 998.0,178.2 C1006.8,179.6 1022.5,181.4 1037.0,181.6 C1051.5,181.8 1070.2,180.4 1085.0,179.5 C1099.8,178.6 1108.0,177.5 1125.5,176.0 C1143.0,174.5 1168.9,172.3 1190.0,170.5 C1211.1,168.7 1235.3,166.6 1252.0,165.0 C1268.7,163.4 1283.7,161.7 1290.0,161.0 Z" stroke="#a81400" stroke-width="40" opacity="0.5"/>
<path d="M1290.0,80.0 C1283.7,80.7 1269.5,82.1 1252.0,84.0 C1234.5,85.9 1205.8,88.4 1185.0,91.5 C1164.2,94.6 1144.2,99.2 1127.0,102.4 C1109.8,105.6 1096.7,106.9 1082.0,110.5 C1067.3,114.1 1051.3,119.1 1039.0,124.0 C1026.7,128.9 1016.2,135.5 1008.0,140.0 C999.8,144.5 994.8,147.5 990.0,151.0 C985.2,154.5 981.0,158.5 979.0,161.0 C977.0,163.5 977.2,164.0 978.0,166.0 C978.8,168.0 980.7,171.0 984.0,173.0 C987.3,175.0 989.2,176.8 998.0,178.2 C1006.8,179.6 1022.5,181.4 1037.0,181.6 C1051.5,181.8 1070.2,180.4 1085.0,179.5 C1099.8,178.6 1108.0,177.5 1125.5,176.0 C1143.0,174.5 1168.9,172.3 1190.0,170.5 C1211.1,168.7 1235.3,166.6 1252.0,165.0 C1268.7,163.4 1283.7,161.7 1290.0,161.0 Z" stroke="#c82800" stroke-width="26" opacity="0.6"/>
<path d="M1290.0,80.0 C1283.7,80.7 1269.5,82.1 1252.0,84.0 C1234.5,85.9 1205.8,88.4 1185.0,91.5 C1164.2,94.6 1144.2,99.2 1127.0,102.4 C1109.8,105.6 1096.7,106.9 1082.0,110.5 C1067.3,114.1 1051.3,119.1 1039.0,124.0 C1026.7,128.9 1016.2,135.5 1008.0,140.0 C999.8,144.5 994.8,147.5 990.0,151.0 C985.2,154.5 981.0,158.5 979.0,161.0 C977.0,163.5 977.2,164.0 978.0,166.0 C978.8,168.0 980.7,171.0 984.0,173.0 C987.3,175.0 989.2,176.8 998.0,178.2 C1006.8,179.6 1022.5,181.4 1037.0,181.6 C1051.5,181.8 1070.2,180.4 1085.0,179.5 C1099.8,178.6 1108.0,177.5 1125.5,176.0 C1143.0,174.5 1168.9,172.3 1190.0,170.5 C1211.1,168.7 1235.3,166.6 1252.0,165.0 C1268.7,163.4 1283.7,161.7 1290.0,161.0 Z" stroke="#e44400" stroke-width="16" opacity="0.75"/>
</g></g>
<g filter="url(#fblur)"><g clip-path="url(#clZ4)" fill="none" stroke-linejoin="round">
<path d="M1290.0,80.0 C1283.7,80.7 1269.5,82.1 1252.0,84.0 C1234.5,85.9 1205.8,88.4 1185.0,91.5 C1164.2,94.6 1144.2,99.2 1127.0,102.4 C1109.8,105.6 1096.7,106.9 1082.0,110.5 C1067.3,114.1 1051.3,119.1 1039.0,124.0 C1026.7,128.9 1016.2,135.5 1008.0,140.0 C999.8,144.5 994.8,147.5 990.0,151.0 C985.2,154.5 981.0,158.5 979.0,161.0 C977.0,163.5 977.2,164.0 978.0,166.0 C978.8,168.0 980.7,171.0 984.0,173.0 C987.3,175.0 989.2,176.8 998.0,178.2 C1006.8,179.6 1022.5,181.4 1037.0,181.6 C1051.5,181.8 1070.2,180.4 1085.0,179.5 C1099.8,178.6 1108.0,177.5 1125.5,176.0 C1143.0,174.5 1168.9,172.3 1190.0,170.5 C1211.1,168.7 1235.3,166.6 1252.0,165.0 C1268.7,163.4 1283.7,161.7 1290.0,161.0 Z" stroke="#f86810" stroke-width="11.0" opacity="0.85"/>
<path d="M1290.0,80.0 C1283.7,80.7 1269.5,82.1 1252.0,84.0 C1234.5,85.9 1205.8,88.4 1185.0,91.5 C1164.2,94.6 1144.2,99.2 1127.0,102.4 C1109.8,105.6 1096.7,106.9 1082.0,110.5 C1067.3,114.1 1051.3,119.1 1039.0,124.0 C1026.7,128.9 1016.2,135.5 1008.0,140.0 C999.8,144.5 994.8,147.5 990.0,151.0 C985.2,154.5 981.0,158.5 979.0,161.0 C977.0,163.5 977.2,164.0 978.0,166.0 C978.8,168.0 980.7,171.0 984.0,173.0 C987.3,175.0 989.2,176.8 998.0,178.2 C1006.8,179.6 1022.5,181.4 1037.0,181.6 C1051.5,181.8 1070.2,180.4 1085.0,179.5 C1099.8,178.6 1108.0,177.5 1125.5,176.0 C1143.0,174.5 1168.9,172.3 1190.0,170.5 C1211.1,168.7 1235.3,166.6 1252.0,165.0 C1268.7,163.4 1283.7,161.7 1290.0,161.0 Z" stroke="#ffa020" stroke-width="8.4" opacity="1"/>
<path d="M1290.0,80.0 C1283.7,80.7 1269.5,82.1 1252.0,84.0 C1234.5,85.9 1205.8,88.4 1185.0,91.5 C1164.2,94.6 1144.2,99.2 1127.0,102.4 C1109.8,105.6 1096.7,106.9 1082.0,110.5 C1067.3,114.1 1051.3,119.1 1039.0,124.0 C1026.7,128.9 1016.2,135.5 1008.0,140.0 C999.8,144.5 994.8,147.5 990.0,151.0 C985.2,154.5 981.0,158.5 979.0,161.0 C977.0,163.5 977.2,164.0 978.0,166.0 C978.8,168.0 980.7,171.0 984.0,173.0 C987.3,175.0 989.2,176.8 998.0,178.2 C1006.8,179.6 1022.5,181.4 1037.0,181.6 C1051.5,181.8 1070.2,180.4 1085.0,179.5 C1099.8,178.6 1108.0,177.5 1125.5,176.0 C1143.0,174.5 1168.9,172.3 1190.0,170.5 C1211.1,168.7 1235.3,166.6 1252.0,165.0 C1268.7,163.4 1283.7,161.7 1290.0,161.0 Z" stroke="#d8e030" stroke-width="6.4" opacity="1"/>
<path d="M1290.0,80.0 C1283.7,80.7 1269.5,82.1 1252.0,84.0 C1234.5,85.9 1205.8,88.4 1185.0,91.5 C1164.2,94.6 1144.2,99.2 1127.0,102.4 C1109.8,105.6 1096.7,106.9 1082.0,110.5 C1067.3,114.1 1051.3,119.1 1039.0,124.0 C1026.7,128.9 1016.2,135.5 1008.0,140.0 C999.8,144.5 994.8,147.5 990.0,151.0 C985.2,154.5 981.0,158.5 979.0,161.0 C977.0,163.5 977.2,164.0 978.0,166.0 C978.8,168.0 980.7,171.0 984.0,173.0 C987.3,175.0 989.2,176.8 998.0,178.2 C1006.8,179.6 1022.5,181.4 1037.0,181.6 C1051.5,181.8 1070.2,180.4 1085.0,179.5 C1099.8,178.6 1108.0,177.5 1125.5,176.0 C1143.0,174.5 1168.9,172.3 1190.0,170.5 C1211.1,168.7 1235.3,166.6 1252.0,165.0 C1268.7,163.4 1283.7,161.7 1290.0,161.0 Z" stroke="#70f050" stroke-width="4.8" opacity="1"/>
<path d="M1290.0,80.0 C1283.7,80.7 1269.5,82.1 1252.0,84.0 C1234.5,85.9 1205.8,88.4 1185.0,91.5 C1164.2,94.6 1144.2,99.2 1127.0,102.4 C1109.8,105.6 1096.7,106.9 1082.0,110.5 C1067.3,114.1 1051.3,119.1 1039.0,124.0 C1026.7,128.9 1016.2,135.5 1008.0,140.0 C999.8,144.5 994.8,147.5 990.0,151.0 C985.2,154.5 981.0,158.5 979.0,161.0 C977.0,163.5 977.2,164.0 978.0,166.0 C978.8,168.0 980.7,171.0 984.0,173.0 C987.3,175.0 989.2,176.8 998.0,178.2 C1006.8,179.6 1022.5,181.4 1037.0,181.6 C1051.5,181.8 1070.2,180.4 1085.0,179.5 C1099.8,178.6 1108.0,177.5 1125.5,176.0 C1143.0,174.5 1168.9,172.3 1190.0,170.5 C1211.1,168.7 1235.3,166.6 1252.0,165.0 C1268.7,163.4 1283.7,161.7 1290.0,161.0 Z" stroke="#30e0c8" stroke-width="2" opacity="1"/>
</g></g>
<clipPath id="clZ32"><path d="M1290.0,165.0 C1283.7,165.8 1269.5,167.0 1252.0,169.5 C1234.5,172.0 1210.0,176.2 1185.0,180.0 C1160.0,183.8 1124.5,188.5 1102.0,192.5 C1079.5,196.5 1063.7,200.5 1050.0,204.0 C1036.3,207.5 1028.2,210.5 1020.0,213.5 C1011.8,216.5 1005.8,219.4 1001.0,222.0 C996.2,224.6 993.2,227.0 991.0,229.0 C988.8,231.0 987.3,232.2 987.5,234.0 C987.7,235.8 989.1,238.4 992.0,240.0 C994.9,241.6 995.8,242.8 1005.0,243.5 C1014.2,244.2 1031.2,244.4 1047.0,244.2 C1062.8,243.9 1083.0,243.1 1100.0,242.0 C1117.0,240.9 1132.0,239.1 1148.7,237.5 C1165.4,235.9 1182.8,234.1 1200.0,232.5 C1217.2,230.9 1237.0,229.3 1252.0,228.0 C1267.0,226.7 1283.7,225.1 1290.0,224.5 Z"/></clipPath>
<path d="M1290.0,165.0 C1283.7,165.8 1269.5,167.0 1252.0,169.5 C1234.5,172.0 1210.0,176.2 1185.0,180.0 C1160.0,183.8 1124.5,188.5 1102.0,192.5 C1079.5,196.5 1063.7,200.5 1050.0,204.0 C1036.3,207.5 1028.2,210.5 1020.0,213.5 C1011.8,216.5 1005.8,219.4 1001.0,222.0 C996.2,224.6 993.2,227.0 991.0,229.0 C988.8,231.0 987.3,232.2 987.5,234.0 C987.7,235.8 989.1,238.4 992.0,240.0 C994.9,241.6 995.8,242.8 1005.0,243.5 C1014.2,244.2 1031.2,244.4 1047.0,244.2 C1062.8,243.9 1083.0,243.1 1100.0,242.0 C1117.0,240.9 1132.0,239.1 1148.7,237.5 C1165.4,235.9 1182.8,234.1 1200.0,232.5 C1217.2,230.9 1237.0,229.3 1252.0,228.0 C1267.0,226.7 1283.7,225.1 1290.0,224.5 Z" fill="none" stroke="#4446d0" stroke-width="3.5" opacity="0.75" filter="url(#fblur)"/>
<g clip-path="url(#clZ32)"><g filter="url(#fblur4)" fill="none" stroke-linejoin="round"><path d="M1290.0,165.0 C1283.7,165.8 1269.5,167.0 1252.0,169.5 C1234.5,172.0 1210.0,176.2 1185.0,180.0 C1160.0,183.8 1124.5,188.5 1102.0,192.5 C1079.5,196.5 1063.7,200.5 1050.0,204.0 C1036.3,207.5 1028.2,210.5 1020.0,213.5 C1011.8,216.5 1005.8,219.4 1001.0,222.0 C996.2,224.6 993.2,227.0 991.0,229.0 C988.8,231.0 987.3,232.2 987.5,234.0 C987.7,235.8 989.1,238.4 992.0,240.0 C994.9,241.6 995.8,242.8 1005.0,243.5 C1014.2,244.2 1031.2,244.4 1047.0,244.2 C1062.8,243.9 1083.0,243.1 1100.0,242.0 C1117.0,240.9 1132.0,239.1 1148.7,237.5 C1165.4,235.9 1182.8,234.1 1200.0,232.5 C1217.2,230.9 1237.0,229.3 1252.0,228.0 C1267.0,226.7 1283.7,225.1 1290.0,224.5 Z" fill="url(#gZ32)"/><path d="M1290.0,165.0 C1283.7,165.8 1269.5,167.0 1252.0,169.5 C1234.5,172.0 1210.0,176.2 1185.0,180.0 C1160.0,183.8 1124.5,188.5 1102.0,192.5 C1079.5,196.5 1063.7,200.5 1050.0,204.0 C1036.3,207.5 1028.2,210.5 1020.0,213.5 C1011.8,216.5 1005.8,219.4 1001.0,222.0 C996.2,224.6 993.2,227.0 991.0,229.0 C988.8,231.0 987.3,232.2 987.5,234.0 C987.7,235.8 989.1,238.4 992.0,240.0 C994.9,241.6 995.8,242.8 1005.0,243.5 C1014.2,244.2 1031.2,244.4 1047.0,244.2 C1062.8,243.9 1083.0,243.1 1100.0,242.0 C1117.0,240.9 1132.0,239.1 1148.7,237.5 C1165.4,235.9 1182.8,234.1 1200.0,232.5 C1217.2,230.9 1237.0,229.3 1252.0,228.0 C1267.0,226.7 1283.7,225.1 1290.0,224.5 Z" stroke="#f07018" stroke-width="18"/>
<path d="M1290.0,165.0 C1283.7,165.8 1269.5,167.0 1252.0,169.5 C1234.5,172.0 1210.0,176.2 1185.0,180.0 C1160.0,183.8 1124.5,188.5 1102.0,192.5 C1079.5,196.5 1063.7,200.5 1050.0,204.0 C1036.3,207.5 1028.2,210.5 1020.0,213.5 C1011.8,216.5 1005.8,219.4 1001.0,222.0 C996.2,224.6 993.2,227.0 991.0,229.0 C988.8,231.0 987.3,232.2 987.5,234.0 C987.7,235.8 989.1,238.4 992.0,240.0 C994.9,241.6 995.8,242.8 1005.0,243.5 C1014.2,244.2 1031.2,244.4 1047.0,244.2 C1062.8,243.9 1083.0,243.1 1100.0,242.0 C1117.0,240.9 1132.0,239.1 1148.7,237.5 C1165.4,235.9 1182.8,234.1 1200.0,232.5 C1217.2,230.9 1237.0,229.3 1252.0,228.0 C1267.0,226.7 1283.7,225.1 1290.0,224.5 Z" stroke="#c82800" stroke-width="60" opacity="0.5"/>
<path d="M1290.0,165.0 C1283.7,165.8 1269.5,167.0 1252.0,169.5 C1234.5,172.0 1210.0,176.2 1185.0,180.0 C1160.0,183.8 1124.5,188.5 1102.0,192.5 C1079.5,196.5 1063.7,200.5 1050.0,204.0 C1036.3,207.5 1028.2,210.5 1020.0,213.5 C1011.8,216.5 1005.8,219.4 1001.0,222.0 C996.2,224.6 993.2,227.0 991.0,229.0 C988.8,231.0 987.3,232.2 987.5,234.0 C987.7,235.8 989.1,238.4 992.0,240.0 C994.9,241.6 995.8,242.8 1005.0,243.5 C1014.2,244.2 1031.2,244.4 1047.0,244.2 C1062.8,243.9 1083.0,243.1 1100.0,242.0 C1117.0,240.9 1132.0,239.1 1148.7,237.5 C1165.4,235.9 1182.8,234.1 1200.0,232.5 C1217.2,230.9 1237.0,229.3 1252.0,228.0 C1267.0,226.7 1283.7,225.1 1290.0,224.5 Z" stroke="#e04000" stroke-width="36" opacity="0.6"/>
<path d="M1290.0,165.0 C1283.7,165.8 1269.5,167.0 1252.0,169.5 C1234.5,172.0 1210.0,176.2 1185.0,180.0 C1160.0,183.8 1124.5,188.5 1102.0,192.5 C1079.5,196.5 1063.7,200.5 1050.0,204.0 C1036.3,207.5 1028.2,210.5 1020.0,213.5 C1011.8,216.5 1005.8,219.4 1001.0,222.0 C996.2,224.6 993.2,227.0 991.0,229.0 C988.8,231.0 987.3,232.2 987.5,234.0 C987.7,235.8 989.1,238.4 992.0,240.0 C994.9,241.6 995.8,242.8 1005.0,243.5 C1014.2,244.2 1031.2,244.4 1047.0,244.2 C1062.8,243.9 1083.0,243.1 1100.0,242.0 C1117.0,240.9 1132.0,239.1 1148.7,237.5 C1165.4,235.9 1182.8,234.1 1200.0,232.5 C1217.2,230.9 1237.0,229.3 1252.0,228.0 C1267.0,226.7 1283.7,225.1 1290.0,224.5 Z" stroke="#f06010" stroke-width="22" opacity="0.7"/>
<path d="M1290.0,165.0 C1283.7,165.8 1269.5,167.0 1252.0,169.5 C1234.5,172.0 1210.0,176.2 1185.0,180.0 C1160.0,183.8 1124.5,188.5 1102.0,192.5 C1079.5,196.5 1063.7,200.5 1050.0,204.0 C1036.3,207.5 1028.2,210.5 1020.0,213.5 C1011.8,216.5 1005.8,219.4 1001.0,222.0 C996.2,224.6 993.2,227.0 991.0,229.0 C988.8,231.0 987.3,232.2 987.5,234.0 C987.7,235.8 989.1,238.4 992.0,240.0 C994.9,241.6 995.8,242.8 1005.0,243.5 C1014.2,244.2 1031.2,244.4 1047.0,244.2 C1062.8,243.9 1083.0,243.1 1100.0,242.0 C1117.0,240.9 1132.0,239.1 1148.7,237.5 C1165.4,235.9 1182.8,234.1 1200.0,232.5 C1217.2,230.9 1237.0,229.3 1252.0,228.0 C1267.0,226.7 1283.7,225.1 1290.0,224.5 Z" stroke="#ff8a20" stroke-width="14" opacity="0.85"/>
</g></g>
<g filter="url(#fblur)"><g clip-path="url(#clZ32)" fill="none" stroke-linejoin="round">
<path d="M1290.0,165.0 C1283.7,165.8 1269.5,167.0 1252.0,169.5 C1234.5,172.0 1210.0,176.2 1185.0,180.0 C1160.0,183.8 1124.5,188.5 1102.0,192.5 C1079.5,196.5 1063.7,200.5 1050.0,204.0 C1036.3,207.5 1028.2,210.5 1020.0,213.5 C1011.8,216.5 1005.8,219.4 1001.0,222.0 C996.2,224.6 993.2,227.0 991.0,229.0 C988.8,231.0 987.3,232.2 987.5,234.0 C987.7,235.8 989.1,238.4 992.0,240.0 C994.9,241.6 995.8,242.8 1005.0,243.5 C1014.2,244.2 1031.2,244.4 1047.0,244.2 C1062.8,243.9 1083.0,243.1 1100.0,242.0 C1117.0,240.9 1132.0,239.1 1148.7,237.5 C1165.4,235.9 1182.8,234.1 1200.0,232.5 C1217.2,230.9 1237.0,229.3 1252.0,228.0 C1267.0,226.7 1283.7,225.1 1290.0,224.5 Z" stroke="#ffb030" stroke-width="10" opacity="1"/>
<path d="M1290.0,165.0 C1283.7,165.8 1269.5,167.0 1252.0,169.5 C1234.5,172.0 1210.0,176.2 1185.0,180.0 C1160.0,183.8 1124.5,188.5 1102.0,192.5 C1079.5,196.5 1063.7,200.5 1050.0,204.0 C1036.3,207.5 1028.2,210.5 1020.0,213.5 C1011.8,216.5 1005.8,219.4 1001.0,222.0 C996.2,224.6 993.2,227.0 991.0,229.0 C988.8,231.0 987.3,232.2 987.5,234.0 C987.7,235.8 989.1,238.4 992.0,240.0 C994.9,241.6 995.8,242.8 1005.0,243.5 C1014.2,244.2 1031.2,244.4 1047.0,244.2 C1062.8,243.9 1083.0,243.1 1100.0,242.0 C1117.0,240.9 1132.0,239.1 1148.7,237.5 C1165.4,235.9 1182.8,234.1 1200.0,232.5 C1217.2,230.9 1237.0,229.3 1252.0,228.0 C1267.0,226.7 1283.7,225.1 1290.0,224.5 Z" stroke="#e0e030" stroke-width="7.2" opacity="1"/>
<path d="M1290.0,165.0 C1283.7,165.8 1269.5,167.0 1252.0,169.5 C1234.5,172.0 1210.0,176.2 1185.0,180.0 C1160.0,183.8 1124.5,188.5 1102.0,192.5 C1079.5,196.5 1063.7,200.5 1050.0,204.0 C1036.3,207.5 1028.2,210.5 1020.0,213.5 C1011.8,216.5 1005.8,219.4 1001.0,222.0 C996.2,224.6 993.2,227.0 991.0,229.0 C988.8,231.0 987.3,232.2 987.5,234.0 C987.7,235.8 989.1,238.4 992.0,240.0 C994.9,241.6 995.8,242.8 1005.0,243.5 C1014.2,244.2 1031.2,244.4 1047.0,244.2 C1062.8,243.9 1083.0,243.1 1100.0,242.0 C1117.0,240.9 1132.0,239.1 1148.7,237.5 C1165.4,235.9 1182.8,234.1 1200.0,232.5 C1217.2,230.9 1237.0,229.3 1252.0,228.0 C1267.0,226.7 1283.7,225.1 1290.0,224.5 Z" stroke="#70f050" stroke-width="5.2" opacity="1"/>
<path d="M1290.0,165.0 C1283.7,165.8 1269.5,167.0 1252.0,169.5 C1234.5,172.0 1210.0,176.2 1185.0,180.0 C1160.0,183.8 1124.5,188.5 1102.0,192.5 C1079.5,196.5 1063.7,200.5 1050.0,204.0 C1036.3,207.5 1028.2,210.5 1020.0,213.5 C1011.8,216.5 1005.8,219.4 1001.0,222.0 C996.2,224.6 993.2,227.0 991.0,229.0 C988.8,231.0 987.3,232.2 987.5,234.0 C987.7,235.8 989.1,238.4 992.0,240.0 C994.9,241.6 995.8,242.8 1005.0,243.5 C1014.2,244.2 1031.2,244.4 1047.0,244.2 C1062.8,243.9 1083.0,243.1 1100.0,242.0 C1117.0,240.9 1132.0,239.1 1148.7,237.5 C1165.4,235.9 1182.8,234.1 1200.0,232.5 C1217.2,230.9 1237.0,229.3 1252.0,228.0 C1267.0,226.7 1283.7,225.1 1290.0,224.5 Z" stroke="#30e0c8" stroke-width="2" opacity="1"/>
</g></g>
<clipPath id="clZ2"><path d="M1290.0,231.0 C1283.3,231.6 1275.5,232.4 1250.0,234.5 C1224.5,236.6 1165.7,240.7 1137.0,243.4 C1108.3,246.1 1097.8,248.1 1078.0,250.8 C1058.2,253.5 1037.8,256.2 1018.0,259.7 C998.2,263.2 976.3,267.4 959.0,271.6 C941.7,275.8 926.3,280.8 914.0,285.0 C901.7,289.2 893.3,293.1 885.0,296.8 C876.7,300.5 869.5,303.5 864.0,307.2 C858.5,310.9 855.0,314.8 852.0,319.1 C849.0,323.4 847.3,328.5 846.0,333.0 C844.7,337.5 844.3,342.2 844.3,346.0 C844.3,349.8 844.2,352.1 846.0,356.0 C847.8,359.9 851.0,365.9 855.0,369.6 C859.0,373.4 862.3,376.0 869.7,378.5 C877.1,381.0 884.5,383.2 899.4,384.5 C914.2,385.8 934.0,386.2 958.8,386.0 C983.6,385.8 1018.3,384.4 1048.0,383.2 C1077.7,381.9 1103.3,380.8 1137.0,378.5 C1170.7,376.2 1224.5,371.7 1250.0,369.6 C1275.5,367.5 1283.3,366.6 1290.0,366.0 Z"/></clipPath>
<path d="M1290.0,231.0 C1283.3,231.6 1275.5,232.4 1250.0,234.5 C1224.5,236.6 1165.7,240.7 1137.0,243.4 C1108.3,246.1 1097.8,248.1 1078.0,250.8 C1058.2,253.5 1037.8,256.2 1018.0,259.7 C998.2,263.2 976.3,267.4 959.0,271.6 C941.7,275.8 926.3,280.8 914.0,285.0 C901.7,289.2 893.3,293.1 885.0,296.8 C876.7,300.5 869.5,303.5 864.0,307.2 C858.5,310.9 855.0,314.8 852.0,319.1 C849.0,323.4 847.3,328.5 846.0,333.0 C844.7,337.5 844.3,342.2 844.3,346.0 C844.3,349.8 844.2,352.1 846.0,356.0 C847.8,359.9 851.0,365.9 855.0,369.6 C859.0,373.4 862.3,376.0 869.7,378.5 C877.1,381.0 884.5,383.2 899.4,384.5 C914.2,385.8 934.0,386.2 958.8,386.0 C983.6,385.8 1018.3,384.4 1048.0,383.2 C1077.7,381.9 1103.3,380.8 1137.0,378.5 C1170.7,376.2 1224.5,371.7 1250.0,369.6 C1275.5,367.5 1283.3,366.6 1290.0,366.0 Z" fill="none" stroke="#4446d0" stroke-width="3.5" opacity="0.75" filter="url(#fblur)"/>
<g clip-path="url(#clZ2)"><g filter="url(#fblur4)" fill="none" stroke-linejoin="round"><path d="M1290.0,231.0 C1283.3,231.6 1275.5,232.4 1250.0,234.5 C1224.5,236.6 1165.7,240.7 1137.0,243.4 C1108.3,246.1 1097.8,248.1 1078.0,250.8 C1058.2,253.5 1037.8,256.2 1018.0,259.7 C998.2,263.2 976.3,267.4 959.0,271.6 C941.7,275.8 926.3,280.8 914.0,285.0 C901.7,289.2 893.3,293.1 885.0,296.8 C876.7,300.5 869.5,303.5 864.0,307.2 C858.5,310.9 855.0,314.8 852.0,319.1 C849.0,323.4 847.3,328.5 846.0,333.0 C844.7,337.5 844.3,342.2 844.3,346.0 C844.3,349.8 844.2,352.1 846.0,356.0 C847.8,359.9 851.0,365.9 855.0,369.6 C859.0,373.4 862.3,376.0 869.7,378.5 C877.1,381.0 884.5,383.2 899.4,384.5 C914.2,385.8 934.0,386.2 958.8,386.0 C983.6,385.8 1018.3,384.4 1048.0,383.2 C1077.7,381.9 1103.3,380.8 1137.0,378.5 C1170.7,376.2 1224.5,371.7 1250.0,369.6 C1275.5,367.5 1283.3,366.6 1290.0,366.0 Z" fill="url(#gZ2)"/><path d="M1290.0,231.0 C1283.3,231.6 1275.5,232.4 1250.0,234.5 C1224.5,236.6 1165.7,240.7 1137.0,243.4 C1108.3,246.1 1097.8,248.1 1078.0,250.8 C1058.2,253.5 1037.8,256.2 1018.0,259.7 C998.2,263.2 976.3,267.4 959.0,271.6 C941.7,275.8 926.3,280.8 914.0,285.0 C901.7,289.2 893.3,293.1 885.0,296.8 C876.7,300.5 869.5,303.5 864.0,307.2 C858.5,310.9 855.0,314.8 852.0,319.1 C849.0,323.4 847.3,328.5 846.0,333.0 C844.7,337.5 844.3,342.2 844.3,346.0 C844.3,349.8 844.2,352.1 846.0,356.0 C847.8,359.9 851.0,365.9 855.0,369.6 C859.0,373.4 862.3,376.0 869.7,378.5 C877.1,381.0 884.5,383.2 899.4,384.5 C914.2,385.8 934.0,386.2 958.8,386.0 C983.6,385.8 1018.3,384.4 1048.0,383.2 C1077.7,381.9 1103.3,380.8 1137.0,378.5 C1170.7,376.2 1224.5,371.7 1250.0,369.6 C1275.5,367.5 1283.3,366.6 1290.0,366.0 Z" stroke="#d84000" stroke-width="18"/>
<path d="M1290.0,231.0 C1283.3,231.6 1275.5,232.4 1250.0,234.5 C1224.5,236.6 1165.7,240.7 1137.0,243.4 C1108.3,246.1 1097.8,248.1 1078.0,250.8 C1058.2,253.5 1037.8,256.2 1018.0,259.7 C998.2,263.2 976.3,267.4 959.0,271.6 C941.7,275.8 926.3,280.8 914.0,285.0 C901.7,289.2 893.3,293.1 885.0,296.8 C876.7,300.5 869.5,303.5 864.0,307.2 C858.5,310.9 855.0,314.8 852.0,319.1 C849.0,323.4 847.3,328.5 846.0,333.0 C844.7,337.5 844.3,342.2 844.3,346.0 C844.3,349.8 844.2,352.1 846.0,356.0 C847.8,359.9 851.0,365.9 855.0,369.6 C859.0,373.4 862.3,376.0 869.7,378.5 C877.1,381.0 884.5,383.2 899.4,384.5 C914.2,385.8 934.0,386.2 958.8,386.0 C983.6,385.8 1018.3,384.4 1048.0,383.2 C1077.7,381.9 1103.3,380.8 1137.0,378.5 C1170.7,376.2 1224.5,371.7 1250.0,369.6 C1275.5,367.5 1283.3,366.6 1290.0,366.0 Z" stroke="#840300" stroke-width="56" opacity="0.45"/>
<path d="M1290.0,231.0 C1283.3,231.6 1275.5,232.4 1250.0,234.5 C1224.5,236.6 1165.7,240.7 1137.0,243.4 C1108.3,246.1 1097.8,248.1 1078.0,250.8 C1058.2,253.5 1037.8,256.2 1018.0,259.7 C998.2,263.2 976.3,267.4 959.0,271.6 C941.7,275.8 926.3,280.8 914.0,285.0 C901.7,289.2 893.3,293.1 885.0,296.8 C876.7,300.5 869.5,303.5 864.0,307.2 C858.5,310.9 855.0,314.8 852.0,319.1 C849.0,323.4 847.3,328.5 846.0,333.0 C844.7,337.5 844.3,342.2 844.3,346.0 C844.3,349.8 844.2,352.1 846.0,356.0 C847.8,359.9 851.0,365.9 855.0,369.6 C859.0,373.4 862.3,376.0 869.7,378.5 C877.1,381.0 884.5,383.2 899.4,384.5 C914.2,385.8 934.0,386.2 958.8,386.0 C983.6,385.8 1018.3,384.4 1048.0,383.2 C1077.7,381.9 1103.3,380.8 1137.0,378.5 C1170.7,376.2 1224.5,371.7 1250.0,369.6 C1275.5,367.5 1283.3,366.6 1290.0,366.0 Z" stroke="#980a00" stroke-width="38" opacity="0.5"/>
<path d="M1290.0,231.0 C1283.3,231.6 1275.5,232.4 1250.0,234.5 C1224.5,236.6 1165.7,240.7 1137.0,243.4 C1108.3,246.1 1097.8,248.1 1078.0,250.8 C1058.2,253.5 1037.8,256.2 1018.0,259.7 C998.2,263.2 976.3,267.4 959.0,271.6 C941.7,275.8 926.3,280.8 914.0,285.0 C901.7,289.2 893.3,293.1 885.0,296.8 C876.7,300.5 869.5,303.5 864.0,307.2 C858.5,310.9 855.0,314.8 852.0,319.1 C849.0,323.4 847.3,328.5 846.0,333.0 C844.7,337.5 844.3,342.2 844.3,346.0 C844.3,349.8 844.2,352.1 846.0,356.0 C847.8,359.9 851.0,365.9 855.0,369.6 C859.0,373.4 862.3,376.0 869.7,378.5 C877.1,381.0 884.5,383.2 899.4,384.5 C914.2,385.8 934.0,386.2 958.8,386.0 C983.6,385.8 1018.3,384.4 1048.0,383.2 C1077.7,381.9 1103.3,380.8 1137.0,378.5 C1170.7,376.2 1224.5,371.7 1250.0,369.6 C1275.5,367.5 1283.3,366.6 1290.0,366.0 Z" stroke="#b01800" stroke-width="26" opacity="0.6"/>
<path d="M1290.0,231.0 C1283.3,231.6 1275.5,232.4 1250.0,234.5 C1224.5,236.6 1165.7,240.7 1137.0,243.4 C1108.3,246.1 1097.8,248.1 1078.0,250.8 C1058.2,253.5 1037.8,256.2 1018.0,259.7 C998.2,263.2 976.3,267.4 959.0,271.6 C941.7,275.8 926.3,280.8 914.0,285.0 C901.7,289.2 893.3,293.1 885.0,296.8 C876.7,300.5 869.5,303.5 864.0,307.2 C858.5,310.9 855.0,314.8 852.0,319.1 C849.0,323.4 847.3,328.5 846.0,333.0 C844.7,337.5 844.3,342.2 844.3,346.0 C844.3,349.8 844.2,352.1 846.0,356.0 C847.8,359.9 851.0,365.9 855.0,369.6 C859.0,373.4 862.3,376.0 869.7,378.5 C877.1,381.0 884.5,383.2 899.4,384.5 C914.2,385.8 934.0,386.2 958.8,386.0 C983.6,385.8 1018.3,384.4 1048.0,383.2 C1077.7,381.9 1103.3,380.8 1137.0,378.5 C1170.7,376.2 1224.5,371.7 1250.0,369.6 C1275.5,367.5 1283.3,366.6 1290.0,366.0 Z" stroke="#cc2c00" stroke-width="20" opacity="0.7"/>
<path d="M1290.0,231.0 C1283.3,231.6 1275.5,232.4 1250.0,234.5 C1224.5,236.6 1165.7,240.7 1137.0,243.4 C1108.3,246.1 1097.8,248.1 1078.0,250.8 C1058.2,253.5 1037.8,256.2 1018.0,259.7 C998.2,263.2 976.3,267.4 959.0,271.6 C941.7,275.8 926.3,280.8 914.0,285.0 C901.7,289.2 893.3,293.1 885.0,296.8 C876.7,300.5 869.5,303.5 864.0,307.2 C858.5,310.9 855.0,314.8 852.0,319.1 C849.0,323.4 847.3,328.5 846.0,333.0 C844.7,337.5 844.3,342.2 844.3,346.0 C844.3,349.8 844.2,352.1 846.0,356.0 C847.8,359.9 851.0,365.9 855.0,369.6 C859.0,373.4 862.3,376.0 869.7,378.5 C877.1,381.0 884.5,383.2 899.4,384.5 C914.2,385.8 934.0,386.2 958.8,386.0 C983.6,385.8 1018.3,384.4 1048.0,383.2 C1077.7,381.9 1103.3,380.8 1137.0,378.5 C1170.7,376.2 1224.5,371.7 1250.0,369.6 C1275.5,367.5 1283.3,366.6 1290.0,366.0 Z" stroke="#e44800" stroke-width="15.0" opacity="0.85"/>
</g></g>
<g filter="url(#fblur)"><g clip-path="url(#clZ2)" fill="none" stroke-linejoin="round">
<path d="M1290.0,231.0 C1283.3,231.6 1275.5,232.4 1250.0,234.5 C1224.5,236.6 1165.7,240.7 1137.0,243.4 C1108.3,246.1 1097.8,248.1 1078.0,250.8 C1058.2,253.5 1037.8,256.2 1018.0,259.7 C998.2,263.2 976.3,267.4 959.0,271.6 C941.7,275.8 926.3,280.8 914.0,285.0 C901.7,289.2 893.3,293.1 885.0,296.8 C876.7,300.5 869.5,303.5 864.0,307.2 C858.5,310.9 855.0,314.8 852.0,319.1 C849.0,323.4 847.3,328.5 846.0,333.0 C844.7,337.5 844.3,342.2 844.3,346.0 C844.3,349.8 844.2,352.1 846.0,356.0 C847.8,359.9 851.0,365.9 855.0,369.6 C859.0,373.4 862.3,376.0 869.7,378.5 C877.1,381.0 884.5,383.2 899.4,384.5 C914.2,385.8 934.0,386.2 958.8,386.0 C983.6,385.8 1018.3,384.4 1048.0,383.2 C1077.7,381.9 1103.3,380.8 1137.0,378.5 C1170.7,376.2 1224.5,371.7 1250.0,369.6 C1275.5,367.5 1283.3,366.6 1290.0,366.0 Z" stroke="#fa8018" stroke-width="12" opacity="1"/>
<path d="M1290.0,231.0 C1283.3,231.6 1275.5,232.4 1250.0,234.5 C1224.5,236.6 1165.7,240.7 1137.0,243.4 C1108.3,246.1 1097.8,248.1 1078.0,250.8 C1058.2,253.5 1037.8,256.2 1018.0,259.7 C998.2,263.2 976.3,267.4 959.0,271.6 C941.7,275.8 926.3,280.8 914.0,285.0 C901.7,289.2 893.3,293.1 885.0,296.8 C876.7,300.5 869.5,303.5 864.0,307.2 C858.5,310.9 855.0,314.8 852.0,319.1 C849.0,323.4 847.3,328.5 846.0,333.0 C844.7,337.5 844.3,342.2 844.3,346.0 C844.3,349.8 844.2,352.1 846.0,356.0 C847.8,359.9 851.0,365.9 855.0,369.6 C859.0,373.4 862.3,376.0 869.7,378.5 C877.1,381.0 884.5,383.2 899.4,384.5 C914.2,385.8 934.0,386.2 958.8,386.0 C983.6,385.8 1018.3,384.4 1048.0,383.2 C1077.7,381.9 1103.3,380.8 1137.0,378.5 C1170.7,376.2 1224.5,371.7 1250.0,369.6 C1275.5,367.5 1283.3,366.6 1290.0,366.0 Z" stroke="#ffb828" stroke-width="9.6" opacity="1"/>
<path d="M1290.0,231.0 C1283.3,231.6 1275.5,232.4 1250.0,234.5 C1224.5,236.6 1165.7,240.7 1137.0,243.4 C1108.3,246.1 1097.8,248.1 1078.0,250.8 C1058.2,253.5 1037.8,256.2 1018.0,259.7 C998.2,263.2 976.3,267.4 959.0,271.6 C941.7,275.8 926.3,280.8 914.0,285.0 C901.7,289.2 893.3,293.1 885.0,296.8 C876.7,300.5 869.5,303.5 864.0,307.2 C858.5,310.9 855.0,314.8 852.0,319.1 C849.0,323.4 847.3,328.5 846.0,333.0 C844.7,337.5 844.3,342.2 844.3,346.0 C844.3,349.8 844.2,352.1 846.0,356.0 C847.8,359.9 851.0,365.9 855.0,369.6 C859.0,373.4 862.3,376.0 869.7,378.5 C877.1,381.0 884.5,383.2 899.4,384.5 C914.2,385.8 934.0,386.2 958.8,386.0 C983.6,385.8 1018.3,384.4 1048.0,383.2 C1077.7,381.9 1103.3,380.8 1137.0,378.5 C1170.7,376.2 1224.5,371.7 1250.0,369.6 C1275.5,367.5 1283.3,366.6 1290.0,366.0 Z" stroke="#c8e838" stroke-width="7.8" opacity="1"/>
<path d="M1290.0,231.0 C1283.3,231.6 1275.5,232.4 1250.0,234.5 C1224.5,236.6 1165.7,240.7 1137.0,243.4 C1108.3,246.1 1097.8,248.1 1078.0,250.8 C1058.2,253.5 1037.8,256.2 1018.0,259.7 C998.2,263.2 976.3,267.4 959.0,271.6 C941.7,275.8 926.3,280.8 914.0,285.0 C901.7,289.2 893.3,293.1 885.0,296.8 C876.7,300.5 869.5,303.5 864.0,307.2 C858.5,310.9 855.0,314.8 852.0,319.1 C849.0,323.4 847.3,328.5 846.0,333.0 C844.7,337.5 844.3,342.2 844.3,346.0 C844.3,349.8 844.2,352.1 846.0,356.0 C847.8,359.9 851.0,365.9 855.0,369.6 C859.0,373.4 862.3,376.0 869.7,378.5 C877.1,381.0 884.5,383.2 899.4,384.5 C914.2,385.8 934.0,386.2 958.8,386.0 C983.6,385.8 1018.3,384.4 1048.0,383.2 C1077.7,381.9 1103.3,380.8 1137.0,378.5 C1170.7,376.2 1224.5,371.7 1250.0,369.6 C1275.5,367.5 1283.3,366.6 1290.0,366.0 Z" stroke="#60f060" stroke-width="5.6" opacity="1"/>
<path d="M1290.0,231.0 C1283.3,231.6 1275.5,232.4 1250.0,234.5 C1224.5,236.6 1165.7,240.7 1137.0,243.4 C1108.3,246.1 1097.8,248.1 1078.0,250.8 C1058.2,253.5 1037.8,256.2 1018.0,259.7 C998.2,263.2 976.3,267.4 959.0,271.6 C941.7,275.8 926.3,280.8 914.0,285.0 C901.7,289.2 893.3,293.1 885.0,296.8 C876.7,300.5 869.5,303.5 864.0,307.2 C858.5,310.9 855.0,314.8 852.0,319.1 C849.0,323.4 847.3,328.5 846.0,333.0 C844.7,337.5 844.3,342.2 844.3,346.0 C844.3,349.8 844.2,352.1 846.0,356.0 C847.8,359.9 851.0,365.9 855.0,369.6 C859.0,373.4 862.3,376.0 869.7,378.5 C877.1,381.0 884.5,383.2 899.4,384.5 C914.2,385.8 934.0,386.2 958.8,386.0 C983.6,385.8 1018.3,384.4 1048.0,383.2 C1077.7,381.9 1103.3,380.8 1137.0,378.5 C1170.7,376.2 1224.5,371.7 1250.0,369.6 C1275.5,367.5 1283.3,366.6 1290.0,366.0 Z" stroke="#30e0c8" stroke-width="2.2" opacity="1"/>
</g></g>
<path d="M1048.0,87.0 C1055.0,87.3 1074.7,89.1 1090.0,89.0 C1105.3,88.9 1123.3,87.8 1140.0,86.5 C1156.7,85.2 1171.3,83.8 1190.0,81.5 C1208.7,79.2 1241.7,74.4 1252.0,73.0" fill="none" stroke="#fff" stroke-width="2.0" stroke-dasharray="8.5,4.5"/>
<path d="M1050.0,84.5 C1056.7,84.8 1075.0,86.6 1090.0,86.5 C1105.0,86.4 1123.3,85.2 1140.0,84.0 C1156.7,82.8 1171.3,81.2 1190.0,79.0 C1208.7,76.8 1241.7,71.9 1252.0,70.5" fill="none" stroke="#fff" stroke-width="2.0" stroke-dasharray="8.5,4.5"/>
<path d="M1080.0,112.0 C1087.8,110.7 1109.5,107.4 1127.0,104.4 C1144.5,101.4 1164.2,97.1 1185.0,94.0 C1205.8,90.9 1240.8,87.3 1252.0,86.0" fill="none" stroke="#fff" stroke-width="2.0" stroke-dasharray="8.5,4.5"/>
<path d="M984.0,174.0 C986.3,175.0 989.2,178.6 998.0,180.2 C1006.8,181.8 1022.5,183.4 1037.0,183.6 C1051.5,183.8 1070.2,182.4 1085.0,181.5 C1099.8,180.6 1108.0,179.5 1125.5,178.0 C1143.0,176.5 1168.9,174.3 1190.0,172.5 C1211.1,170.7 1241.7,167.9 1252.0,167.0" fill="none" stroke="#fff" stroke-width="2.0" stroke-dasharray="8.5,4.5"/>
<path d="M1047.0,206.0 C1056.2,204.1 1079.0,198.5 1102.0,194.5 C1125.0,190.5 1160.0,185.8 1185.0,182.0 C1210.0,178.2 1240.8,173.2 1252.0,171.5" fill="none" stroke="#fff" stroke-width="2.0" stroke-dasharray="8.5,4.5"/>
<path d="M1047.0,241.8 C1055.8,241.5 1083.0,240.9 1100.0,239.8 C1117.0,238.7 1132.0,236.9 1148.7,235.3 C1165.4,233.7 1182.8,231.9 1200.0,230.3 C1217.2,228.7 1243.3,226.6 1252.0,225.8" fill="none" stroke="#fff" stroke-width="2.0" stroke-dasharray="8.5,4.5"/>
<path d="M864.0,37.5 C872.3,37.9 899.2,38.8 914.0,39.6 C928.8,40.4 940.7,41.6 953.0,42.5 C965.3,43.4 982.2,44.8 988.0,45.2" fill="none" stroke="#fff" stroke-width="2.0" stroke-dasharray="8.5,4.5"/>
<text transform="translate(1008.0,48.8) rotate(15)" x="-16.5" y="4.5" font-size="13.3" fill="#fff" textLength="33.0" lengthAdjust="spacing">5.90</text>
<path d="M769.0,39.6 C777.1,40.6 800.1,43.3 817.9,45.4 C835.7,47.5 860.5,50.6 875.7,52.2 C890.9,53.8 903.5,54.5 909.0,55.0" fill="none" stroke="#fff" stroke-width="2.9" stroke-dasharray="0.1,5.6" stroke-linecap="round"/>
<text transform="translate(925.5,56.0) rotate(4)" x="-12.0" y="4.5" font-size="13.3" fill="#fff" textLength="24.0" lengthAdjust="spacing">5.7</text>
<path d="M942.0,57.5 C948.6,58.4 970.5,60.5 981.8,62.8 C993.1,65.1 1002.1,68.5 1010.0,71.5 C1017.9,74.5 1023.2,78.5 1029.0,80.9 C1034.8,83.3 1042.3,85.2 1045.0,86.0" fill="none" stroke="#fff" stroke-width="2.9" stroke-dasharray="0.1,5.6" stroke-linecap="round"/>
<path d="M769.0,87.9 C777.5,88.6 804.7,90.6 820.0,92.0 C835.3,93.4 854.2,95.8 861.0,96.5" fill="none" stroke="#fff" stroke-width="2.9" stroke-dasharray="0.1,5.6" stroke-linecap="round"/>
<text transform="translate(877.2,97.5) rotate(2)" x="-12.0" y="4.5" font-size="13.3" fill="#fff" textLength="24.0" lengthAdjust="spacing">5.0</text>
<path d="M893.0,99.4 C902.5,99.7 930.5,100.5 950.0,101.0 C969.5,101.5 993.3,102.3 1010.0,102.3 C1026.7,102.3 1039.0,101.6 1050.0,101.0 C1061.0,100.4 1067.7,99.5 1076.0,98.5 C1084.3,97.5 1087.7,96.7 1100.0,95.0 C1112.3,93.3 1133.3,90.8 1150.0,88.5 C1166.7,86.2 1183.0,83.4 1200.0,81.0 C1217.0,78.6 1243.3,75.2 1252.0,74.0" fill="none" stroke="#fff" stroke-width="2.9" stroke-dasharray="0.1,5.6" stroke-linecap="round"/>
<path d="M769.0,136.1 L788.0,138.5" fill="none" stroke="#fff" stroke-width="2.9" stroke-dasharray="0.1,5.6" stroke-linecap="round"/>
<text transform="translate(803.8,139.0) rotate(0)" x="-12.0" y="4.5" font-size="13.3" fill="#fff" textLength="24.0" lengthAdjust="spacing">4.3</text>
<path d="M820.0,139.0 C828.3,138.9 854.3,138.7 870.0,138.5 C885.7,138.3 899.3,138.8 914.3,138.0 C929.3,137.2 944.0,135.8 960.0,134.0 C976.0,132.2 995.2,130.1 1010.0,127.4 C1024.8,124.7 1036.7,121.1 1048.7,118.0 C1060.7,114.9 1069.0,111.8 1082.0,109.0 C1095.0,106.2 1109.8,104.2 1127.0,101.0 C1144.2,97.8 1164.2,93.6 1185.0,90.0 C1205.8,86.4 1240.8,81.2 1252.0,79.5" fill="none" stroke="#fff" stroke-width="2.9" stroke-dasharray="0.1,5.6" stroke-linecap="round"/>
<path d="M769.0,156.4 C777.1,156.7 801.1,158.2 817.9,158.3 C834.7,158.4 855.5,157.6 870.0,157.0 C884.5,156.4 899.2,155.3 905.0,155.0" fill="none" stroke="#fff" stroke-width="2.0" stroke-dasharray="8.5,4.5"/>
<text transform="translate(925.4,153.0) rotate(-5)" x="-16.5" y="4.5" font-size="13.3" fill="#fff" textLength="33.0" lengthAdjust="spacing">4.05</text>
<path d="M946.0,151.0 C951.7,150.0 969.3,147.3 980.0,145.0 C990.7,142.7 1000.0,140.3 1010.0,137.0 C1020.0,133.7 1035.0,127.0 1040.0,125.0" fill="none" stroke="#fff" stroke-width="2.0" stroke-dasharray="8.5,4.5"/>
<path d="M769.0,165.0 C774.2,165.3 790.8,166.3 800.0,166.6 C809.2,166.9 820.0,166.6 824.0,166.6" fill="none" stroke="#fff" stroke-width="2.0" stroke-dasharray="8.5,4.5"/>
<text transform="translate(843.9,165.3) rotate(0)" x="-16.5" y="4.5" font-size="13.3" fill="#fff" textLength="33.0" lengthAdjust="spacing">3.95</text>
<path d="M864.0,165.0 C873.3,164.5 902.0,163.1 920.0,162.0 C938.0,160.9 962.0,158.5 972.0,158.3 C982.0,158.1 978.7,160.6 980.0,161.0" fill="none" stroke="#fff" stroke-width="2.0" stroke-dasharray="8.5,4.5"/>
<path d="M769.0,178.5 C782.5,178.4 829.2,178.3 850.0,178.0 C870.8,177.7 886.7,176.8 894.0,176.6" fill="none" stroke="#fff" stroke-width="2.9" stroke-dasharray="0.1,5.6" stroke-linecap="round"/>
<text transform="translate(909.2,174.5) rotate(-3)" x="-12.0" y="4.5" font-size="13.3" fill="#fff" textLength="24.0" lengthAdjust="spacing">3.8</text>
<path d="M925.0,174.0 C930.8,174.2 950.5,174.6 960.0,175.0 C969.5,175.4 975.1,175.7 981.8,176.6 C988.5,177.5 990.3,179.3 1000.0,180.5 C1009.7,181.7 1019.2,184.2 1040.0,184.0 C1060.8,183.8 1100.0,180.7 1125.0,179.0 C1150.0,177.3 1168.8,175.7 1190.0,174.0 C1211.2,172.3 1241.7,169.8 1252.0,169.0" fill="none" stroke="#fff" stroke-width="2.9" stroke-dasharray="0.1,5.6" stroke-linecap="round"/>
<path d="M769.0,235.0 C777.5,234.8 800.8,234.7 820.0,234.0 C839.2,233.3 873.3,231.5 884.0,231.0" fill="none" stroke="#fff" stroke-width="2.9" stroke-dasharray="0.1,5.6" stroke-linecap="round"/>
<text transform="translate(899.5,228.5) rotate(-8)" x="-11.5" y="4.5" font-size="13.3" fill="#fff" textLength="23.0" lengthAdjust="spacing">3.2</text>
<path d="M915.0,225.0 C920.8,224.0 940.0,221.0 950.0,219.0 C960.0,217.0 966.7,214.8 975.0,213.0 C983.3,211.2 988.0,210.2 1000.0,208.0 C1012.0,205.8 1029.7,202.8 1046.7,199.5 C1063.7,196.2 1079.0,191.8 1102.0,188.0 C1125.0,184.2 1160.0,179.8 1185.0,176.5 C1210.0,173.2 1240.8,169.4 1252.0,168.0" fill="none" stroke="#fff" stroke-width="2.9" stroke-dasharray="0.1,5.6" stroke-linecap="round"/>
<path d="M769.0,245.0 C779.2,244.9 809.8,244.8 830.0,244.5 C850.2,244.2 877.5,243.8 890.0,243.5 C902.5,243.2 902.5,242.7 905.0,242.5" fill="none" stroke="#fff" stroke-width="2.0" stroke-dasharray="8.5,4.5"/>
<text transform="translate(925.0,240.9) rotate(-5)" x="-16.3" y="4.5" font-size="13.3" fill="#fff" textLength="32.6" lengthAdjust="spacing">3.05</text>
<path d="M945.0,237.5 C949.2,236.9 962.5,233.8 970.0,234.0 C977.5,234.2 983.3,237.4 990.0,238.5 C996.7,239.6 1000.5,240.0 1010.0,240.5 C1019.5,241.0 1040.8,241.2 1047.0,241.4" fill="none" stroke="#fff" stroke-width="2.0" stroke-dasharray="8.5,4.5"/>
<path d="M769.0,251.0 C775.5,251.2 798.8,252.2 808.0,252.5 C817.2,252.8 821.3,252.9 824.0,253.0" fill="none" stroke="#fff" stroke-width="2.0" stroke-dasharray="8.5,4.5"/>
<text transform="translate(844.2,253.5) rotate(0)" x="-17.0" y="4.5" font-size="13.3" fill="#fff" textLength="34.0" lengthAdjust="spacing">2.95</text>
<path d="M865.0,252.0 C874.2,251.5 899.2,250.1 920.0,249.0 C940.8,247.9 965.8,246.7 990.0,245.5 C1014.2,244.3 1038.3,243.5 1065.0,242.0 C1091.7,240.5 1118.8,238.6 1150.0,236.5 C1181.2,234.4 1235.0,230.7 1252.0,229.5" fill="none" stroke="#fff" stroke-width="2.0" stroke-dasharray="8.5,4.5"/>
<path d="M769.0,265.0 C780.8,264.8 823.2,264.2 840.0,264.0 C856.8,263.8 865.0,263.6 870.0,263.5" fill="none" stroke="#fff" stroke-width="2.9" stroke-dasharray="0.1,5.6" stroke-linecap="round"/>
<text transform="translate(885.0,263.3) rotate(0)" x="-12.0" y="4.5" font-size="13.3" fill="#fff" textLength="24.0" lengthAdjust="spacing">2.7</text>
<path d="M901.0,262.5 C909.2,261.8 933.5,259.6 950.0,258.0 C966.5,256.4 985.0,254.8 1000.0,253.0 C1015.0,251.2 1023.3,249.0 1040.0,247.0 C1056.7,245.0 1064.7,243.8 1100.0,241.0 C1135.3,238.2 1226.7,231.8 1252.0,230.0" fill="none" stroke="#fff" stroke-width="2.9" stroke-dasharray="0.1,5.6" stroke-linecap="round"/>
<path d="M769.0,278.9 L785.0,280.3" fill="none" stroke="#fff" stroke-width="2.0" stroke-dasharray="8.5,4.5"/>
<text transform="translate(805.0,280.7) rotate(0)" x="-16.5" y="4.5" font-size="13.3" fill="#fff" textLength="33.0" lengthAdjust="spacing">2.00</text>
<path d="M825.0,280.0 C829.3,279.5 841.5,278.2 850.6,277.1 C859.7,276.0 867.5,275.0 879.6,273.5 C891.7,272.0 906.7,270.1 923.0,268.0 C939.3,265.9 959.3,263.5 977.4,260.8 C995.5,258.1 1013.6,254.4 1031.7,251.7 C1049.8,249.0 1066.3,246.6 1086.0,244.5 C1105.7,242.4 1122.3,241.1 1150.0,239.0 C1177.7,236.9 1235.0,233.2 1252.0,232.0" fill="none" stroke="#fff" stroke-width="2.0" stroke-dasharray="8.5,4.5"/>
<path d="M769.0,328.9 L787.0,329.0" fill="none" stroke="#fff" stroke-width="2.0" stroke-dasharray="8.5,4.5"/>
<text transform="translate(807.1,329.6) rotate(0)" x="-16.5" y="4.5" font-size="13.3" fill="#fff" textLength="33.0" lengthAdjust="spacing">2.00</text>
<path d="M827.0,328.9 L853.0,328.6" fill="none" stroke="#fff" stroke-width="2.0" stroke-dasharray="8.5,4.5"/>
<path d="M769.0,393.8 L823.0,393.8" fill="none" stroke="#fff" stroke-width="2.0" stroke-dasharray="8.5,4.5"/>
<text transform="translate(843.3,393.8) rotate(0)" x="-16.5" y="4.5" font-size="13.3" fill="#fff" textLength="33.0" lengthAdjust="spacing">2.00</text>
<path d="M863.0,393.8 C876.0,393.4 910.1,392.5 941.2,391.2 C972.4,389.9 1013.7,387.9 1049.9,385.8 C1086.1,383.7 1124.9,381.0 1158.6,378.6 C1192.3,376.2 1236.4,372.5 1252.0,371.3" fill="none" stroke="#fff" stroke-width="2.0" stroke-dasharray="8.5,4.5"/>
<line x1="1046.6" y1="138" x2="1046.6" y2="242.5" stroke="#000" stroke-width="2.6"/>
<g font-family="'Liberation Serif','DejaVu Serif',serif">
<text x="780.5" y="210.2" font-size="20.5" fill="#fff" stroke="#fff" stroke-width="0.1" textLength="104.0" lengthAdjust="spacingAndGlyphs" >Disordered</text>
<text x="1136.5" y="61.3" font-size="20" fill="#fff" stroke="#fff" stroke-width="0.1" textLength="25.5" lengthAdjust="spacingAndGlyphs" ><tspan font-family="DejaVu Serif">ℤ</tspan><tspan font-weight="bold" font-size="14.5" dy="2.5">6</tspan></text>
<text x="1185.5" y="130.8" font-size="20" fill="#fff" stroke="#fff" stroke-width="0.1" textLength="25.5" lengthAdjust="spacingAndGlyphs" ><tspan font-family="DejaVu Serif">ℤ</tspan><tspan font-weight="bold" font-size="14.5" dy="2.5">4</tspan></text>
<text x="1116.0" y="215.1" font-size="20" fill="#fff" stroke="#fff" stroke-width="0.1" textLength="82.0" lengthAdjust="spacingAndGlyphs" ><tspan font-family="DejaVu Serif">ℤ</tspan><tspan font-weight="bold" font-size="14.5" dy="2.5">3</tspan><tspan dy="-2.5"> × </tspan><tspan font-family="DejaVu Serif">ℤ</tspan><tspan font-weight="bold" font-size="14.5" dy="2.5">2</tspan></text>
<text x="1064.0" y="322.4" font-size="20" fill="#fff" stroke="#fff" stroke-width="0.1" textLength="24.5" lengthAdjust="spacingAndGlyphs" ><tspan font-family="DejaVu Serif">ℤ</tspan><tspan font-weight="bold" font-size="14.5" dy="2.5">2</tspan></text>
<text x="1052.0" y="147.5" font-size="22" fill="#fff" stroke="#fff" stroke-width="0.1" textLength="21.0" lengthAdjust="spacingAndGlyphs" font-family="'DejaVu Serif',serif" >←</text>
<text x="1081.5" y="149.0" font-size="22" fill="#fff" stroke="#fff" stroke-width="0.1" textLength="38.0" lengthAdjust="spacingAndGlyphs" font-weight="bold">exp.</text>
<text x="1138.0" y="149.0" font-size="22" fill="#fff" stroke="#fff" stroke-width="0.1" textLength="34.5" lengthAdjust="spacingAndGlyphs" font-weight="bold">cut</text>
<text transform="translate(1121.6,98.5) rotate(-15.3)" x="-37.0" y="5.5" font-size="17" fill="#000" stroke="#000" stroke-width="0.1" textLength="74.0" lengthAdjust="spacingAndGlyphs" >Floating</text>
<text transform="translate(1010.5,209.0) rotate(-41)" x="-40.0" y="5.5" font-size="17" fill="#000" stroke="#000" stroke-width="0.1" textLength="80.0" lengthAdjust="spacingAndGlyphs" >Floating</text>
</g>
</g>
<g font-family="'Liberation Serif','DejaVu Serif',serif" fill="#000" stroke-width="0.1">
<rect x="768.0" y="36.8" width="481.0" height="365.95" fill="none" stroke="#000" stroke-width="2"/>
<line x1="844.5" y1="402.75" x2="844.5" y2="407.75" stroke="#000" stroke-width="1.8"/>
<text x="840.6" y="420.9" font-size="13.8" fill="#000" stroke="#000" stroke-width="0.1" textLength="7.8" lengthAdjust="spacing" >1</text>
<line x1="925.4" y1="402.75" x2="925.4" y2="407.75" stroke="#000" stroke-width="1.8"/>
<text x="921.5" y="420.9" font-size="13.8" fill="#000" stroke="#000" stroke-width="0.1" textLength="7.8" lengthAdjust="spacing" >2</text>
<line x1="1006.3" y1="402.75" x2="1006.3" y2="407.75" stroke="#000" stroke-width="1.8"/>
<text x="1002.4" y="420.9" font-size="13.8" fill="#000" stroke="#000" stroke-width="0.1" textLength="7.8" lengthAdjust="spacing" >3</text>
<line x1="1087.2" y1="402.75" x2="1087.2" y2="407.75" stroke="#000" stroke-width="1.8"/>
<text x="1083.3" y="420.9" font-size="13.8" fill="#000" stroke="#000" stroke-width="0.1" textLength="7.8" lengthAdjust="spacing" >4</text>
<line x1="1168.1" y1="402.75" x2="1168.1" y2="407.75" stroke="#000" stroke-width="1.8"/>
<text x="1164.2" y="420.9" font-size="13.8" fill="#000" stroke="#000" stroke-width="0.1" textLength="7.8" lengthAdjust="spacing" >5</text>
<line x1="1249.0" y1="402.75" x2="1249.0" y2="407.75" stroke="#000" stroke-width="1.8"/>
<text x="1245.1" y="420.9" font-size="13.8" fill="#000" stroke="#000" stroke-width="0.1" textLength="7.8" lengthAdjust="spacing" >6</text>
<line x1="763.0" y1="402.8" x2="768.0" y2="402.8" stroke="#000" stroke-width="1.8"/>
<text x="734.8" y="408.1" font-size="13.8" fill="#000" stroke="#000" stroke-width="0.1" textLength="24.2" lengthAdjust="spacing" >1.0</text>
<line x1="763.0" y1="329.6" x2="768.0" y2="329.6" stroke="#000" stroke-width="1.8"/>
<text x="734.8" y="334.9" font-size="13.8" fill="#000" stroke="#000" stroke-width="0.1" textLength="24.2" lengthAdjust="spacing" >1.5</text>
<line x1="763.0" y1="256.4" x2="768.0" y2="256.4" stroke="#000" stroke-width="1.8"/>
<text x="734.8" y="261.8" font-size="13.8" fill="#000" stroke="#000" stroke-width="0.1" textLength="24.2" lengthAdjust="spacing" >2.0</text>
<line x1="763.0" y1="183.1" x2="768.0" y2="183.1" stroke="#000" stroke-width="1.8"/>
<text x="734.8" y="188.5" font-size="13.8" fill="#000" stroke="#000" stroke-width="0.1" textLength="24.2" lengthAdjust="spacing" >2.5</text>
<line x1="763.0" y1="109.9" x2="768.0" y2="109.9" stroke="#000" stroke-width="1.8"/>
<text x="734.8" y="115.3" font-size="13.8" fill="#000" stroke="#000" stroke-width="0.1" textLength="24.2" lengthAdjust="spacing" >3.0</text>
<line x1="763.0" y1="36.8" x2="768.0" y2="36.8" stroke="#000" stroke-width="1.8"/>
<text x="734.8" y="42.1" font-size="13.8" fill="#000" stroke="#000" stroke-width="0.1" textLength="24.2" lengthAdjust="spacing" >3.5</text>
<text x="986.5" y="446.0" font-size="20.3" fill="#000" stroke="#000" stroke-width="0.1" textLength="44.0" lengthAdjust="spacingAndGlyphs" >Δ/Ω</text>
<text transform="translate(721.4,219.3) rotate(-90)" x="-24.2" y="0.0" font-size="21.5" fill="#000" stroke="#000" stroke-width="0.1" textLength="48.5" lengthAdjust="spacingAndGlyphs" ><tspan font-style="italic">R</tspan><tspan font-style="italic" font-size="15" dy="4">b</tspan><tspan dy="-4">/</tspan><tspan font-style="italic">a</tspan></text>
<linearGradient id="gCB" x1="0" y1="1" x2="0" y2="0"><stop offset="0.0000" stop-color="#380d3e"/><stop offset="0.0882" stop-color="#36124a"/><stop offset="0.1335" stop-color="#3a1e64"/><stop offset="0.1348" stop-color="#08e4a8"/><stop offset="0.2015" stop-color="#00f47c"/><stop offset="0.3275" stop-color="#10f660"/><stop offset="0.4786" stop-color="#30f040"/><stop offset="0.5793" stop-color="#58ec30"/><stop offset="0.6096" stop-color="#80e828"/><stop offset="0.6297" stop-color="#d0d010"/><stop offset="0.6801" stop-color="#f4b800"/><stop offset="0.7431" stop-color="#ffa000"/><stop offset="0.8312" stop-color="#ff7c00"/><stop offset="0.9320" stop-color="#ff5400"/><stop offset="1.0000" stop-color="#f03c00"/></linearGradient>
<rect x="1266" y="55.2" width="16.700000000000045" height="347.55" fill="url(#gCB)" stroke="#000" stroke-width="2"/>
<line x1="1282.7" y1="402.8" x2="1287.7" y2="402.8" stroke="#000" stroke-width="1.8"/>
<text x="1292.0" y="407.4" font-size="13.8" fill="#000" stroke="#000" stroke-width="0.1" textLength="7.8" lengthAdjust="spacing" >0</text>
<line x1="1282.7" y1="315.2" x2="1287.7" y2="315.2" stroke="#000" stroke-width="1.8"/>
<text x="1292.0" y="319.8" font-size="13.8" fill="#000" stroke="#000" stroke-width="0.1" textLength="7.8" lengthAdjust="spacing" >1</text>
<line x1="1282.7" y1="227.7" x2="1287.7" y2="227.7" stroke="#000" stroke-width="1.8"/>
<text x="1292.0" y="232.3" font-size="13.8" fill="#000" stroke="#000" stroke-width="0.1" textLength="7.8" lengthAdjust="spacing" >2</text>
<line x1="1282.7" y1="140.1" x2="1287.7" y2="140.1" stroke="#000" stroke-width="1.8"/>
<text x="1292.0" y="144.7" font-size="13.8" fill="#000" stroke="#000" stroke-width="0.1" textLength="7.8" lengthAdjust="spacing" >3</text>
<text x="1256.5" y="47.0" font-size="21" fill="#000" stroke="#000" stroke-width="0.1" textLength="53.0" lengthAdjust="spacingAndGlyphs" ><tspan font-style="italic">S</tspan>(<tspan font-style="italic">k</tspan><tspan font-style="italic" font-size="15" dy="4">o</tspan><tspan dy="-4">)</tspan></text>
</g>
<g font-family="'Liberation Serif','DejaVu Serif',serif" fill="#000" stroke-width="0.1">
<circle cx="140.9" cy="609.4" r="6.5" fill="#620076" stroke="#333" stroke-width="0.75"/>
<circle cx="186.7" cy="609.4" r="6.5" fill="#ffefe9" stroke="#333" stroke-width="0.75"/>
<circle cx="232.5" cy="609.4" r="6.5" fill="#fed7d1" stroke="#333" stroke-width="0.75"/>
<circle cx="278.2" cy="609.4" r="6.5" fill="#940080" stroke="#333" stroke-width="0.75"/>
<circle cx="324.0" cy="609.4" r="6.5" fill="#fee4de" stroke="#333" stroke-width="0.75"/>
<circle cx="369.8" cy="609.4" r="6.5" fill="#fdd1cb" stroke="#333" stroke-width="0.75"/>
<circle cx="415.5" cy="609.4" r="6.5" fill="#be0088" stroke="#333" stroke-width="0.75"/>
<circle cx="461.3" cy="609.4" r="6.5" fill="#fee4de" stroke="#333" stroke-width="0.75"/>
<circle cx="507.1" cy="609.4" r="6.5" fill="#fee8e3" stroke="#333" stroke-width="0.75"/>
<circle cx="552.9" cy="609.4" r="6.5" fill="#680078" stroke="#333" stroke-width="0.75"/>
<circle cx="186.7" cy="518.0" r="6.5" fill="#71007a" stroke="#333" stroke-width="0.75"/>
<circle cx="232.5" cy="518.0" r="6.5" fill="#fee8e3" stroke="#333" stroke-width="0.75"/>
<circle cx="278.2" cy="518.0" r="6.5" fill="#fee8e3" stroke="#333" stroke-width="0.75"/>
<circle cx="324.0" cy="518.0" r="6.5" fill="#9e0082" stroke="#333" stroke-width="0.75"/>
<circle cx="369.8" cy="518.0" r="6.5" fill="#fed7d1" stroke="#333" stroke-width="0.75"/>
<circle cx="415.5" cy="518.0" r="6.5" fill="#fee8e3" stroke="#333" stroke-width="0.75"/>
<circle cx="461.3" cy="518.0" r="6.5" fill="#940080" stroke="#333" stroke-width="0.75"/>
<circle cx="507.1" cy="518.0" r="6.5" fill="#fedad4" stroke="#333" stroke-width="0.75"/>
<circle cx="552.9" cy="518.0" r="6.5" fill="#feece7" stroke="#333" stroke-width="0.75"/>
<circle cx="598.6" cy="518.0" r="6.5" fill="#680078" stroke="#333" stroke-width="0.75"/>
<clipPath id="clipZ32"><rect x="114.75" y="505.0" width="510.04999999999995" height="117.39999999999998"/></clipPath>
<circle clip-path="url(#clipZ32)" cx="598.6" cy="518.0" r="96.1" fill="none" stroke="#7f7f7f" stroke-width="2.7" stroke-dasharray="10.4,5.2"/>
<path d="M598.6,518.0L534.0,587.5M537.1,579.0L534.0,587.5L542.2,583.8" fill="none" stroke="#222" stroke-width="1.4" stroke-linecap="round" stroke-linejoin="round"/>
<text x="575.5" y="563.8" font-size="20.5" fill="#000" stroke="#000" stroke-width="0.1" textLength="42.0" lengthAdjust="spacingAndGlyphs" >2.1<tspan font-style="italic">a</tspan></text>
<path d="M186.7,518.0L186.7,609.4M182.1,601.0L186.7,609.4L191.2,601.0" fill="none" stroke="#c8c828" stroke-width="1.4" stroke-linecap="round" stroke-linejoin="round"/><path d="M186.7,609.4L186.7,518.0M191.2,526.4L186.7,518.0L182.1,526.4" fill="none" stroke="#c8c828" stroke-width="1.4" stroke-linecap="round" stroke-linejoin="round"/>
<path d="M369.8,609.4L415.5,609.4M407.2,613.9L415.5,609.4L407.2,604.8" fill="none" stroke="#c8c828" stroke-width="1.4" stroke-linecap="round" stroke-linejoin="round"/><path d="M415.5,609.4L369.8,609.4M378.1,604.8L369.8,609.4L378.1,613.9" fill="none" stroke="#c8c828" stroke-width="1.4" stroke-linecap="round" stroke-linejoin="round"/>
<text x="196.0" y="568.2" font-size="20.5" fill="#000" stroke="#000" stroke-width="0.1" textLength="80.5" lengthAdjust="spacingAndGlyphs" ><tspan font-style="italic">a</tspan><tspan font-style="italic" font-size="15" dy="4">y</tspan><tspan dy="-4"> = 2</tspan><tspan font-style="italic">a</tspan></text>
<text x="359.0" y="594.6" font-size="20.5" fill="#000" stroke="#000" stroke-width="0.1" textLength="69.5" lengthAdjust="spacingAndGlyphs" ><tspan font-style="italic">a</tspan><tspan font-style="italic" font-size="15" dy="4">x</tspan><tspan dy="-4"> = </tspan><tspan font-style="italic">a</tspan></text>
<rect x="114.75" y="505.0" width="510.04999999999995" height="117.39999999999998" fill="none" stroke="#000" stroke-width="2.3"/>
<line x1="140.9" y1="622.4" x2="140.9" y2="627.9" stroke="#000" stroke-width="1.9"/>
<text x="137.1" y="641.7" font-size="15" fill="#000" stroke="#000" stroke-width="0.1" textLength="7.6" lengthAdjust="spacing" >0</text>
<line x1="206.3" y1="622.4" x2="206.3" y2="627.9" stroke="#000" stroke-width="1.9"/>
<text x="202.5" y="641.7" font-size="15" fill="#000" stroke="#000" stroke-width="0.1" textLength="7.6" lengthAdjust="spacing" >5</text>
<line x1="271.7" y1="622.4" x2="271.7" y2="627.9" stroke="#000" stroke-width="1.9"/>
<text x="263.3" y="641.7" font-size="15" fill="#000" stroke="#000" stroke-width="0.1" textLength="16.7" lengthAdjust="spacing" >10</text>
<line x1="337.1" y1="622.4" x2="337.1" y2="627.9" stroke="#000" stroke-width="1.9"/>
<text x="328.7" y="641.7" font-size="15" fill="#000" stroke="#000" stroke-width="0.1" textLength="16.7" lengthAdjust="spacing" >15</text>
<line x1="402.5" y1="622.4" x2="402.5" y2="627.9" stroke="#000" stroke-width="1.9"/>
<text x="394.1" y="641.7" font-size="15" fill="#000" stroke="#000" stroke-width="0.1" textLength="16.7" lengthAdjust="spacing" >20</text>
<line x1="467.9" y1="622.4" x2="467.9" y2="627.9" stroke="#000" stroke-width="1.9"/>
<text x="459.5" y="641.7" font-size="15" fill="#000" stroke="#000" stroke-width="0.1" textLength="16.7" lengthAdjust="spacing" >25</text>
<line x1="533.3" y1="622.4" x2="533.3" y2="627.9" stroke="#000" stroke-width="1.9"/>
<text x="524.9" y="641.7" font-size="15" fill="#000" stroke="#000" stroke-width="0.1" textLength="16.7" lengthAdjust="spacing" >30</text>
<line x1="598.6" y1="622.4" x2="598.6" y2="627.9" stroke="#000" stroke-width="1.9"/>
<text x="590.3" y="641.7" font-size="15" fill="#000" stroke="#000" stroke-width="0.1" textLength="16.7" lengthAdjust="spacing" >35</text>
<line x1="109.25" y1="609.4" x2="114.75" y2="609.4" stroke="#000" stroke-width="1.9"/>
<text x="97.0" y="614.4" font-size="15" fill="#000" stroke="#000" stroke-width="0.1" textLength="7.9" lengthAdjust="spacing" >0</text>
<line x1="109.25" y1="583.3" x2="114.75" y2="583.3" stroke="#000" stroke-width="1.9"/>
<text x="97.0" y="588.3" font-size="15" fill="#000" stroke="#000" stroke-width="0.1" textLength="7.9" lengthAdjust="spacing" >2</text>
<line x1="109.25" y1="557.2" x2="114.75" y2="557.2" stroke="#000" stroke-width="1.9"/>
<text x="97.0" y="562.2" font-size="15" fill="#000" stroke="#000" stroke-width="0.1" textLength="7.9" lengthAdjust="spacing" >4</text>
<line x1="109.25" y1="531.1" x2="114.75" y2="531.1" stroke="#000" stroke-width="1.9"/>
<text x="97.0" y="536.1" font-size="15" fill="#000" stroke="#000" stroke-width="0.1" textLength="7.9" lengthAdjust="spacing" >6</text>
<line x1="109.25" y1="505.0" x2="114.75" y2="505.0" stroke="#000" stroke-width="1.9"/>
<text x="97.0" y="510.0" font-size="15" fill="#000" stroke="#000" stroke-width="0.1" textLength="7.9" lengthAdjust="spacing" >8</text>
<text x="331.0" y="493.8" font-size="20" fill="#000" stroke="#000" stroke-width="0.1" textLength="78.0" lengthAdjust="spacingAndGlyphs" ><tspan font-family="DejaVu Serif">ℤ</tspan><tspan font-size="14.5" dy="3">3</tspan><tspan dy="-3"> × </tspan><tspan font-family="DejaVu Serif">ℤ</tspan><tspan font-size="14.5" dy="3">2</tspan></text>
<text x="338.5" y="662.8" font-size="21" fill="#000" stroke="#000" stroke-width="0.1" textLength="62.6" lengthAdjust="spacingAndGlyphs" ><tspan font-style="italic">x</tspan>(<tspan font-style="italic">μ</tspan>m)</text>
<text transform="translate(82.0,563.7) rotate(-90)" x="-31.2" y="0.0" font-size="21" fill="#000" stroke="#000" stroke-width="0.1" textLength="62.4" lengthAdjust="spacingAndGlyphs" ><tspan font-style="italic">y</tspan>(<tspan font-style="italic">μ</tspan>m)</text>
<circle cx="752.5" cy="609.4" r="6.5" fill="#680078" stroke="#333" stroke-width="0.75"/>
<circle cx="787.9" cy="609.4" r="6.5" fill="#feece7" stroke="#333" stroke-width="0.75"/>
<circle cx="823.3" cy="609.4" r="6.5" fill="#fff1eb" stroke="#333" stroke-width="0.75"/>
<circle cx="858.8" cy="609.4" r="6.5" fill="#fed7d1" stroke="#333" stroke-width="0.75"/>
<circle cx="894.2" cy="609.4" r="6.5" fill="#ee329a" stroke="#333" stroke-width="0.75"/>
<circle cx="929.6" cy="609.4" r="6.5" fill="#fed4ce" stroke="#333" stroke-width="0.75"/>
<circle cx="965.0" cy="609.4" r="6.5" fill="#feece7" stroke="#333" stroke-width="0.75"/>
<circle cx="1000.5" cy="609.4" r="6.5" fill="#fee8e3" stroke="#333" stroke-width="0.75"/>
<circle cx="1035.9" cy="609.4" r="6.5" fill="#9e0082" stroke="#333" stroke-width="0.75"/>
<circle cx="1071.3" cy="609.4" r="6.5" fill="#fee6e0" stroke="#333" stroke-width="0.75"/>
<circle cx="787.9" cy="538.9" r="6.5" fill="#fee4de" stroke="#333" stroke-width="0.75"/>
<circle cx="823.3" cy="538.9" r="6.5" fill="#ae0085" stroke="#333" stroke-width="0.75"/>
<circle cx="858.8" cy="538.9" r="6.5" fill="#fee2dc" stroke="#333" stroke-width="0.75"/>
<circle cx="894.2" cy="538.9" r="6.5" fill="#feece7" stroke="#333" stroke-width="0.75"/>
<circle cx="929.6" cy="538.9" r="6.5" fill="#fed7d1" stroke="#333" stroke-width="0.75"/>
<circle cx="965.0" cy="538.9" r="6.5" fill="#ee329a" stroke="#333" stroke-width="0.75"/>
<circle cx="1000.5" cy="538.9" r="6.5" fill="#fed7d1" stroke="#333" stroke-width="0.75"/>
<circle cx="1035.9" cy="538.9" r="6.5" fill="#ffefe9" stroke="#333" stroke-width="0.75"/>
<circle cx="1071.3" cy="538.9" r="6.5" fill="#feece7" stroke="#333" stroke-width="0.75"/>
<circle cx="1106.7" cy="538.9" r="6.5" fill="#680078" stroke="#333" stroke-width="0.75"/>
<clipPath id="clipZ4"><rect x="726.0" y="505.0" width="510.5" height="117.39999999999998"/></clipPath>
<circle clip-path="url(#clipZ4)" cx="894.2" cy="609.4" r="95.6" fill="none" stroke="#7f7f7f" stroke-width="2.7" stroke-dasharray="10.4,5.2"/>
<path d="M894.2,609.4L833.5,538.5M841.6,542.5L833.5,538.5L836.2,547.1" fill="none" stroke="#222" stroke-width="1.4" stroke-linecap="round" stroke-linejoin="round"/>
<text x="871.0" y="572.9" font-size="20.5" fill="#000" stroke="#000" stroke-width="0.1" textLength="42.0" lengthAdjust="spacingAndGlyphs" >2.7<tspan font-style="italic">a</tspan></text>
<rect x="726.0" y="505.0" width="510.5" height="117.39999999999998" fill="none" stroke="#000" stroke-width="2.3"/>
<line x1="752.5" y1="622.4" x2="752.5" y2="627.9" stroke="#000" stroke-width="1.9"/>
<text x="748.7" y="641.7" font-size="15" fill="#000" stroke="#000" stroke-width="0.1" textLength="7.6" lengthAdjust="spacing" >0</text>
<line x1="818.1" y1="622.4" x2="818.1" y2="627.9" stroke="#000" stroke-width="1.9"/>
<text x="814.3" y="641.7" font-size="15" fill="#000" stroke="#000" stroke-width="0.1" textLength="7.6" lengthAdjust="spacing" >5</text>
<line x1="883.7" y1="622.4" x2="883.7" y2="627.9" stroke="#000" stroke-width="1.9"/>
<text x="875.4" y="641.7" font-size="15" fill="#000" stroke="#000" stroke-width="0.1" textLength="16.7" lengthAdjust="spacing" >10</text>
<line x1="949.3" y1="622.4" x2="949.3" y2="627.9" stroke="#000" stroke-width="1.9"/>
<text x="940.9" y="641.7" font-size="15" fill="#000" stroke="#000" stroke-width="0.1" textLength="16.7" lengthAdjust="spacing" >15</text>
<line x1="1014.9" y1="622.4" x2="1014.9" y2="627.9" stroke="#000" stroke-width="1.9"/>
<text x="1006.5" y="641.7" font-size="15" fill="#000" stroke="#000" stroke-width="0.1" textLength="16.7" lengthAdjust="spacing" >20</text>
<line x1="1080.5" y1="622.4" x2="1080.5" y2="627.9" stroke="#000" stroke-width="1.9"/>
<text x="1072.2" y="641.7" font-size="15" fill="#000" stroke="#000" stroke-width="0.1" textLength="16.7" lengthAdjust="spacing" >25</text>
<line x1="1146.1" y1="622.4" x2="1146.1" y2="627.9" stroke="#000" stroke-width="1.9"/>
<text x="1137.8" y="641.7" font-size="15" fill="#000" stroke="#000" stroke-width="0.1" textLength="16.7" lengthAdjust="spacing" >30</text>
<line x1="1211.7" y1="622.4" x2="1211.7" y2="627.9" stroke="#000" stroke-width="1.9"/>
<text x="1203.4" y="641.7" font-size="15" fill="#000" stroke="#000" stroke-width="0.1" textLength="16.7" lengthAdjust="spacing" >35</text>
<line x1="720.5" y1="609.4" x2="726.0" y2="609.4" stroke="#000" stroke-width="1.9"/>
<text x="708.2" y="614.4" font-size="15" fill="#000" stroke="#000" stroke-width="0.1" textLength="7.9" lengthAdjust="spacing" >0</text>
<line x1="720.5" y1="583.3" x2="726.0" y2="583.3" stroke="#000" stroke-width="1.9"/>
<text x="708.2" y="588.3" font-size="15" fill="#000" stroke="#000" stroke-width="0.1" textLength="7.9" lengthAdjust="spacing" >2</text>
<line x1="720.5" y1="557.2" x2="726.0" y2="557.2" stroke="#000" stroke-width="1.9"/>
<text x="708.2" y="562.2" font-size="15" fill="#000" stroke="#000" stroke-width="0.1" textLength="7.9" lengthAdjust="spacing" >4</text>
<line x1="720.5" y1="531.1" x2="726.0" y2="531.1" stroke="#000" stroke-width="1.9"/>
<text x="708.2" y="536.1" font-size="15" fill="#000" stroke="#000" stroke-width="0.1" textLength="7.9" lengthAdjust="spacing" >6</text>
<line x1="720.5" y1="505.0" x2="726.0" y2="505.0" stroke="#000" stroke-width="1.9"/>
<text x="708.2" y="510.0" font-size="15" fill="#000" stroke="#000" stroke-width="0.1" textLength="7.9" lengthAdjust="spacing" >8</text>
<text x="970.5" y="493.9" font-size="20" fill="#000" stroke="#000" stroke-width="0.1" textLength="23.0" lengthAdjust="spacingAndGlyphs" ><tspan font-family="DejaVu Serif">ℤ</tspan><tspan font-size="14.5" dy="3">4</tspan></text>
<text x="950.0" y="662.8" font-size="21" fill="#000" stroke="#000" stroke-width="0.1" textLength="62.6" lengthAdjust="spacingAndGlyphs" ><tspan font-style="italic">x</tspan>(<tspan font-style="italic">μ</tspan>m)</text>
<text transform="translate(693.2,563.7) rotate(-90)" x="-31.2" y="0.0" font-size="21" fill="#000" stroke="#000" stroke-width="0.1" textLength="62.4" lengthAdjust="spacingAndGlyphs" ><tspan font-style="italic">y</tspan>(<tspan font-style="italic">μ</tspan>m)</text>
<circle cx="237.5" cy="810.3" r="6.5" fill="#620076" stroke="#333" stroke-width="0.75"/>
<circle cx="276.6" cy="810.3" r="6.5" fill="#feece7" stroke="#333" stroke-width="0.75"/>
<circle cx="315.6" cy="810.3" r="6.5" fill="#feece7" stroke="#333" stroke-width="0.75"/>
<circle cx="354.7" cy="810.3" r="6.5" fill="#e81496" stroke="#333" stroke-width="0.75"/>
<circle cx="393.8" cy="810.3" r="6.5" fill="#fdbfbe" stroke="#333" stroke-width="0.75"/>
<circle cx="432.9" cy="810.3" r="6.5" fill="#fee2dc" stroke="#333" stroke-width="0.75"/>
<circle cx="471.9" cy="810.3" r="6.5" fill="#fb89ae" stroke="#333" stroke-width="0.75"/>
<circle cx="511.0" cy="810.3" r="6.5" fill="#fb8daf" stroke="#333" stroke-width="0.75"/>
<circle cx="550.1" cy="810.3" r="6.5" fill="#fdccc6" stroke="#333" stroke-width="0.75"/>
<circle cx="589.1" cy="810.3" r="6.5" fill="#fdc3bf" stroke="#333" stroke-width="0.75"/>
<circle cx="628.2" cy="810.3" r="6.5" fill="#fb89ae" stroke="#333" stroke-width="0.75"/>
<circle cx="667.3" cy="810.3" r="6.5" fill="#fdbfbe" stroke="#333" stroke-width="0.75"/>
<circle cx="706.4" cy="810.3" r="6.5" fill="#fdccc6" stroke="#333" stroke-width="0.75"/>
<circle cx="745.4" cy="810.3" r="6.5" fill="#fca4b4" stroke="#333" stroke-width="0.75"/>
<circle cx="784.5" cy="810.3" r="6.5" fill="#fb91b0" stroke="#333" stroke-width="0.75"/>
<circle cx="823.6" cy="810.3" r="6.5" fill="#fdd1cb" stroke="#333" stroke-width="0.75"/>
<circle cx="862.6" cy="810.3" r="6.5" fill="#fdbfbe" stroke="#333" stroke-width="0.75"/>
<circle cx="901.7" cy="810.3" r="6.5" fill="#f559a1" stroke="#333" stroke-width="0.75"/>
<circle cx="940.8" cy="810.3" r="6.5" fill="#fdbfbe" stroke="#333" stroke-width="0.75"/>
<circle cx="979.8" cy="810.3" r="6.5" fill="#ffefe9" stroke="#333" stroke-width="0.75"/>
<circle cx="1018.9" cy="810.3" r="6.5" fill="#fb8daf" stroke="#333" stroke-width="0.75"/>
<circle cx="1058.0" cy="810.3" r="6.5" fill="#f2449c" stroke="#333" stroke-width="0.75"/>
<circle cx="276.6" cy="732.2" r="6.5" fill="#e81496" stroke="#333" stroke-width="0.75"/>
<circle cx="315.6" cy="732.2" r="6.5" fill="#fcaeb8" stroke="#333" stroke-width="0.75"/>
<circle cx="354.7" cy="732.2" r="6.5" fill="#feece7" stroke="#333" stroke-width="0.75"/>
<circle cx="393.8" cy="732.2" r="6.5" fill="#fcabb6" stroke="#333" stroke-width="0.75"/>
<circle cx="432.9" cy="732.2" r="6.5" fill="#f975a8" stroke="#333" stroke-width="0.75"/>
<circle cx="471.9" cy="732.2" r="6.5" fill="#fdd1cb" stroke="#333" stroke-width="0.75"/>
<circle cx="511.0" cy="732.2" r="6.5" fill="#fed4ce" stroke="#333" stroke-width="0.75"/>
<circle cx="550.1" cy="732.2" r="6.5" fill="#fb89ae" stroke="#333" stroke-width="0.75"/>
<circle cx="589.1" cy="732.2" r="6.5" fill="#fcaeb8" stroke="#333" stroke-width="0.75"/>
<circle cx="628.2" cy="732.2" r="6.5" fill="#fdccc6" stroke="#333" stroke-width="0.75"/>
<circle cx="667.3" cy="732.2" r="6.5" fill="#fcb5ba" stroke="#333" stroke-width="0.75"/>
<circle cx="706.4" cy="732.2" r="6.5" fill="#fb91b0" stroke="#333" stroke-width="0.75"/>
<circle cx="745.4" cy="732.2" r="6.5" fill="#fdbfbe" stroke="#333" stroke-width="0.75"/>
<circle cx="784.5" cy="732.2" r="6.5" fill="#fdcec8" stroke="#333" stroke-width="0.75"/>
<circle cx="823.6" cy="732.2" r="6.5" fill="#fb89ae" stroke="#333" stroke-width="0.75"/>
<circle cx="862.6" cy="732.2" r="6.5" fill="#fb99b1" stroke="#333" stroke-width="0.75"/>
<circle cx="901.7" cy="732.2" r="6.5" fill="#feece7" stroke="#333" stroke-width="0.75"/>
<circle cx="940.8" cy="732.2" r="6.5" fill="#fcaeb8" stroke="#333" stroke-width="0.75"/>
<circle cx="979.8" cy="732.2" r="6.5" fill="#e81496" stroke="#333" stroke-width="0.75"/>
<circle cx="1018.9" cy="732.2" r="6.5" fill="#feece7" stroke="#333" stroke-width="0.75"/>
<circle cx="1058.0" cy="732.2" r="6.5" fill="#ffefe9" stroke="#333" stroke-width="0.75"/>
<circle cx="1097.1" cy="732.2" r="6.5" fill="#5f0075" stroke="#333" stroke-width="0.75"/>
<clipPath id="clipFl"><rect x="114.5" y="706.2" width="1122.0" height="117.09999999999991"/></clipPath>
<circle clip-path="url(#clipFl)" cx="979.8" cy="732.2" r="92.2" fill="none" stroke="#7f7f7f" stroke-width="2.7" stroke-dasharray="10.4,5.2"/>
<path d="M979.8,732.2L905.0,785.0M909.8,777.4L905.0,785.0L913.8,783.1" fill="none" stroke="#222" stroke-width="1.4" stroke-linecap="round" stroke-linejoin="round"/>
<text x="953.5" y="772.5" font-size="20.5" fill="#000" stroke="#000" stroke-width="0.1" textLength="53.0" lengthAdjust="spacingAndGlyphs" >2.35<tspan font-style="italic">a</tspan></text>
<path d="M237.4,791.1L484.3,791.1M474.7,795.4L484.3,791.1L474.7,786.8" fill="none" stroke="#333" stroke-width="2.1" stroke-linecap="round" stroke-linejoin="round"/>
<text x="273.6" y="784.8" font-size="19.5" fill="#000" stroke="#000" stroke-width="0.1" textLength="9.4" lengthAdjust="spacing" >1</text>
<text x="311.5" y="784.8" font-size="19.5" fill="#000" stroke="#000" stroke-width="0.1" textLength="11.5" lengthAdjust="spacing" >2</text>
<text x="350.3" y="784.8" font-size="19.5" fill="#000" stroke="#000" stroke-width="0.1" textLength="11.5" lengthAdjust="spacing" >3</text>
<text x="389.2" y="784.8" font-size="19.5" fill="#000" stroke="#000" stroke-width="0.1" textLength="11.5" lengthAdjust="spacing" >4</text>
<circle cx="424.5" cy="780" r="1.2" fill="#000"/>
<circle cx="435.4" cy="780" r="1.2" fill="#000"/>
<circle cx="446.3" cy="780" r="1.2" fill="#000"/>
<text x="500.5" y="793.6" font-size="20" fill="#000" stroke="#000" stroke-width="0.1" textLength="8.0" lengthAdjust="spacingAndGlyphs" ><tspan font-style="italic">i</tspan></text>
<text x="159.5" y="737.9" font-size="20.5" fill="#000" stroke="#000" stroke-width="0.1" textLength="53.0" lengthAdjust="spacingAndGlyphs" ><tspan font-style="italic">j</tspan> = 1</text>
<text x="159.5" y="814.5" font-size="20.5" fill="#000" stroke="#000" stroke-width="0.1" textLength="53.5" lengthAdjust="spacingAndGlyphs" ><tspan font-style="italic">j</tspan> = 0</text>
<rect x="114.5" y="706.2" width="1122.0" height="117.09999999999991" fill="none" stroke="#000" stroke-width="2.3"/>
<line x1="237.5" y1="823.3" x2="237.5" y2="828.8" stroke="#000" stroke-width="1.9"/>
<text x="233.7" y="843.1" font-size="13.7" fill="#000" stroke="#000" stroke-width="0.1" textLength="7.6" lengthAdjust="spacing" >0</text>
<line x1="368.3" y1="823.3" x2="368.3" y2="828.8" stroke="#000" stroke-width="1.9"/>
<text x="359.9" y="843.1" font-size="13.7" fill="#000" stroke="#000" stroke-width="0.1" textLength="16.7" lengthAdjust="spacing" >10</text>
<line x1="499.0" y1="823.3" x2="499.0" y2="828.8" stroke="#000" stroke-width="1.9"/>
<text x="490.7" y="843.1" font-size="13.7" fill="#000" stroke="#000" stroke-width="0.1" textLength="16.7" lengthAdjust="spacing" >20</text>
<line x1="629.8" y1="823.3" x2="629.8" y2="828.8" stroke="#000" stroke-width="1.9"/>
<text x="621.4" y="843.1" font-size="13.7" fill="#000" stroke="#000" stroke-width="0.1" textLength="16.7" lengthAdjust="spacing" >30</text>
<line x1="760.5" y1="823.3" x2="760.5" y2="828.8" stroke="#000" stroke-width="1.9"/>
<text x="752.2" y="843.1" font-size="13.7" fill="#000" stroke="#000" stroke-width="0.1" textLength="16.7" lengthAdjust="spacing" >40</text>
<line x1="891.3" y1="823.3" x2="891.3" y2="828.8" stroke="#000" stroke-width="1.9"/>
<text x="882.9" y="843.1" font-size="13.7" fill="#000" stroke="#000" stroke-width="0.1" textLength="16.7" lengthAdjust="spacing" >50</text>
<line x1="1022.1" y1="823.3" x2="1022.1" y2="828.8" stroke="#000" stroke-width="1.9"/>
<text x="1013.7" y="843.1" font-size="13.7" fill="#000" stroke="#000" stroke-width="0.1" textLength="16.7" lengthAdjust="spacing" >60</text>
<line x1="1152.8" y1="823.3" x2="1152.8" y2="828.8" stroke="#000" stroke-width="1.9"/>
<text x="1144.5" y="843.1" font-size="13.7" fill="#000" stroke="#000" stroke-width="0.1" textLength="16.7" lengthAdjust="spacing" >70</text>
<line x1="109.0" y1="810.3" x2="114.5" y2="810.3" stroke="#000" stroke-width="1.9"/>
<text x="96.7" y="815.3" font-size="15" fill="#000" stroke="#000" stroke-width="0.1" textLength="7.9" lengthAdjust="spacing" >0</text>
<line x1="109.0" y1="784.3" x2="114.5" y2="784.3" stroke="#000" stroke-width="1.9"/>
<text x="96.7" y="789.3" font-size="15" fill="#000" stroke="#000" stroke-width="0.1" textLength="7.9" lengthAdjust="spacing" >2</text>
<line x1="109.0" y1="758.2" x2="114.5" y2="758.2" stroke="#000" stroke-width="1.9"/>
<text x="96.7" y="763.2" font-size="15" fill="#000" stroke="#000" stroke-width="0.1" textLength="7.9" lengthAdjust="spacing" >4</text>
<line x1="109.0" y1="732.2" x2="114.5" y2="732.2" stroke="#000" stroke-width="1.9"/>
<text x="96.7" y="737.2" font-size="15" fill="#000" stroke="#000" stroke-width="0.1" textLength="7.9" lengthAdjust="spacing" >6</text>
<line x1="109.0" y1="706.2" x2="114.5" y2="706.2" stroke="#000" stroke-width="1.9"/>
<text x="96.7" y="711.2" font-size="15" fill="#000" stroke="#000" stroke-width="0.1" textLength="7.9" lengthAdjust="spacing" >8</text>
<text x="633.9" y="694.6" font-size="21" fill="#000" stroke="#000" stroke-width="0.1" textLength="84.9" lengthAdjust="spacingAndGlyphs" >Floating</text>
<text x="644.2" y="863.7" font-size="21" fill="#000" stroke="#000" stroke-width="0.1" textLength="62.6" lengthAdjust="spacingAndGlyphs" ><tspan font-style="italic">x</tspan>(<tspan font-style="italic">μ</tspan>m)</text>
<text transform="translate(81.8,764.8) rotate(-90)" x="-31.2" y="0.0" font-size="21" fill="#000" stroke="#000" stroke-width="0.1" textLength="62.4" lengthAdjust="spacingAndGlyphs" ><tspan font-style="italic">y</tspan>(<tspan font-style="italic">μ</tspan>m)</text>
<linearGradient id="gRdPu" x1="0" y1="0" x2="0" y2="1"><stop offset="0.000" stop-color="#4a006e"/><stop offset="0.100" stop-color="#680078"/><stop offset="0.200" stop-color="#940080"/><stop offset="0.300" stop-color="#c8008a"/><stop offset="0.350" stop-color="#e0008f"/><stop offset="0.400" stop-color="#e81496"/><stop offset="0.500" stop-color="#f4509e"/><stop offset="0.600" stop-color="#fa7eab"/><stop offset="0.700" stop-color="#fca4b4"/><stop offset="0.800" stop-color="#fdc6c0"/><stop offset="0.900" stop-color="#fee2dc"/><stop offset="1.000" stop-color="#fff7f2"/></linearGradient>
<rect x="1253.8" y="513.4" width="20.0" height="310.6" fill="url(#gRdPu)" stroke="#000" stroke-width="2.3"/>
<line x1="1273.8" y1="824.0" x2="1279.1" y2="824.0" stroke="#000" stroke-width="1.9"/>
<text x="1284.2" y="829.5" font-size="14.5" fill="#000" stroke="#000" stroke-width="0.1" textLength="24.6" lengthAdjust="spacing" >0.0</text>
<line x1="1273.8" y1="761.9" x2="1279.1" y2="761.9" stroke="#000" stroke-width="1.9"/>
<text x="1284.2" y="767.4" font-size="14.5" fill="#000" stroke="#000" stroke-width="0.1" textLength="24.6" lengthAdjust="spacing" >0.2</text>
<line x1="1273.8" y1="699.8" x2="1279.1" y2="699.8" stroke="#000" stroke-width="1.9"/>
<text x="1284.2" y="705.3" font-size="14.5" fill="#000" stroke="#000" stroke-width="0.1" textLength="24.6" lengthAdjust="spacing" >0.4</text>
<line x1="1273.8" y1="637.6" x2="1279.1" y2="637.6" stroke="#000" stroke-width="1.9"/>
<text x="1284.2" y="643.1" font-size="14.5" fill="#000" stroke="#000" stroke-width="0.1" textLength="24.6" lengthAdjust="spacing" >0.6</text>
<line x1="1273.8" y1="575.5" x2="1279.1" y2="575.5" stroke="#000" stroke-width="1.9"/>
<text x="1284.2" y="581.0" font-size="14.5" fill="#000" stroke="#000" stroke-width="0.1" textLength="24.6" lengthAdjust="spacing" >0.8</text>
<line x1="1273.8" y1="513.4" x2="1279.1" y2="513.4" stroke="#000" stroke-width="1.9"/>
<text x="1284.2" y="518.9" font-size="14.5" fill="#000" stroke="#000" stroke-width="0.1" textLength="24.6" lengthAdjust="spacing" >1.0</text>
<text x="1250.6" y="498.6" font-size="21" fill="#000" stroke="#000" stroke-width="0.1" textLength="38.4" lengthAdjust="spacingAndGlyphs" >⟨<tspan font-style="italic">n</tspan><tspan font-style="italic" font-size="15" dy="4">i</tspan><tspan dy="-4">⟩</tspan></text>
</g>
<g font-family="'Liberation Sans','DejaVu Sans',sans-serif" font-weight="bold" font-size="19.5" fill="#000"><text x="60.5" y="40.7">a</text><text x="692" y="40.7">b</text><text x="60.5" y="488.7">c</text></g>
</svg></body></html>
